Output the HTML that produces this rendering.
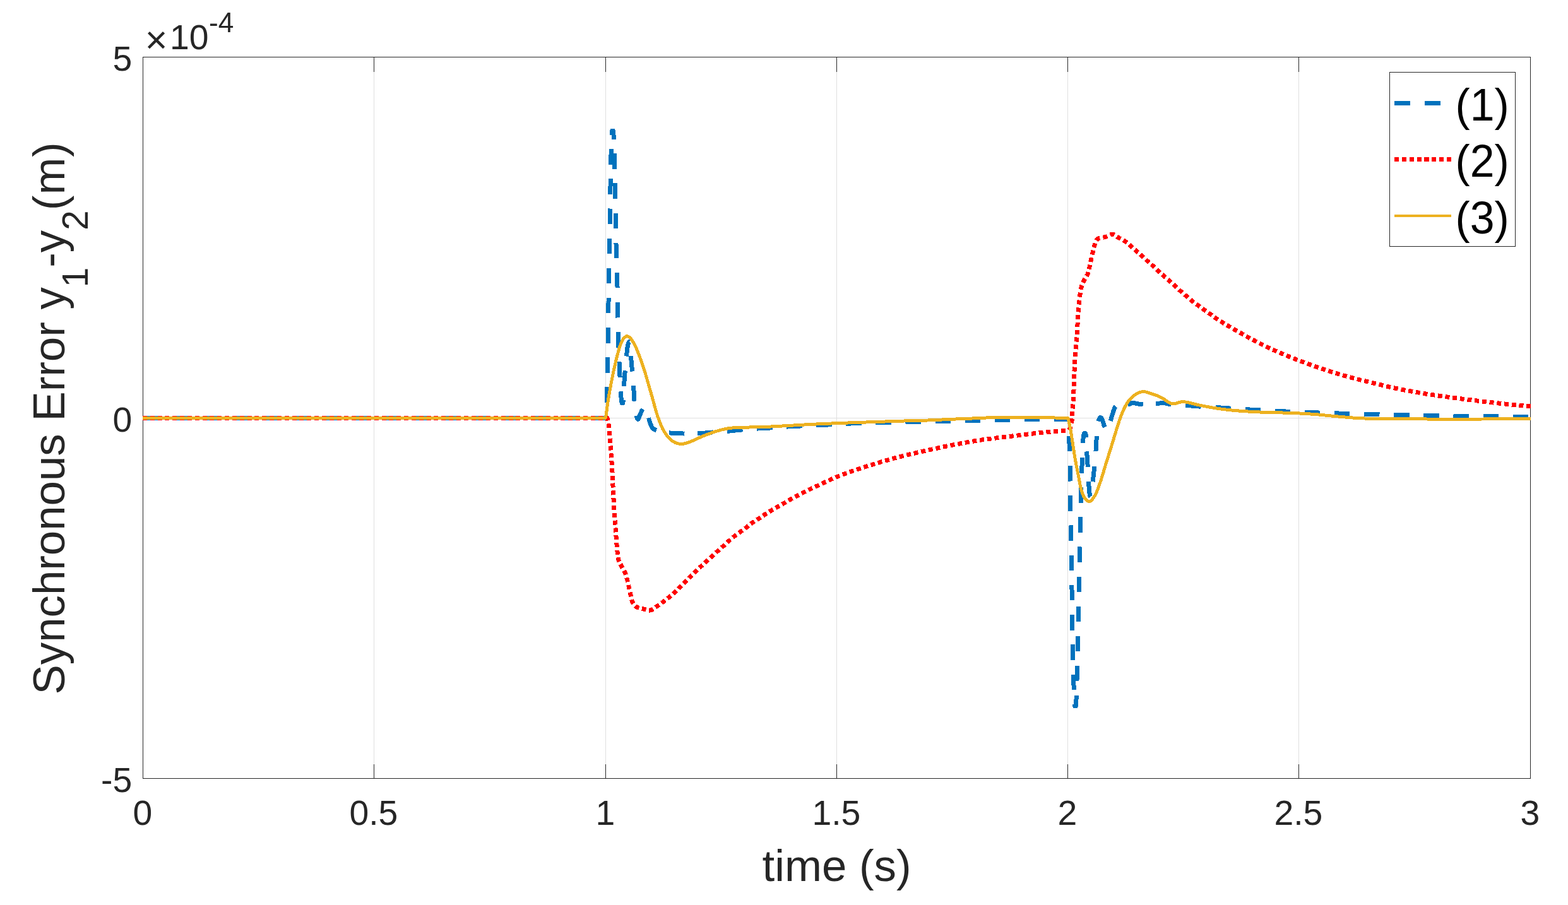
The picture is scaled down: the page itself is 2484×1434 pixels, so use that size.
<!DOCTYPE html>
<html lang="en"><head><meta charset="utf-8"><title>Synchronous Error</title>
<style>
html,body{margin:0;padding:0;background:#fff;}
body{width:2484px;height:1434px;overflow:hidden;}
svg{display:block;}
text{font-family:"Liberation Sans", "DejaVu Sans", sans-serif;}
</style></head><body>
<svg width="2484" height="1434" viewBox="0 0 2484 1434">
<rect x="0" y="0" width="2484" height="1434" fill="#ffffff"/>

<g stroke="#dfdfdf" stroke-width="1" shape-rendering="crispEdges">
<line x1="592.5" y1="90.5" x2="592.5" y2="1233.5"/>
<line x1="959.5" y1="90.5" x2="959.5" y2="1233.5"/>
<line x1="1325.5" y1="90.5" x2="1325.5" y2="1233.5"/>
<line x1="1691.5" y1="90.5" x2="1691.5" y2="1233.5"/>
<line x1="2057.5" y1="90.5" x2="2057.5" y2="1233.5"/>
<line x1="226.5" y1="662.5" x2="2424.5" y2="662.5"/>
</g>
<g stroke="#262626" stroke-width="1" fill="none" shape-rendering="crispEdges">
<rect x="226.5" y="90.5" width="2198.0" height="1143.0"/>
<line x1="592.5" y1="1233.5" x2="592.5" y2="1210.5"/>
<line x1="592.5" y1="90.5" x2="592.5" y2="113.5"/>
<line x1="959.5" y1="1233.5" x2="959.5" y2="1210.5"/>
<line x1="959.5" y1="90.5" x2="959.5" y2="113.5"/>
<line x1="1325.5" y1="1233.5" x2="1325.5" y2="1210.5"/>
<line x1="1325.5" y1="90.5" x2="1325.5" y2="113.5"/>
<line x1="1691.5" y1="1233.5" x2="1691.5" y2="1210.5"/>
<line x1="1691.5" y1="90.5" x2="1691.5" y2="113.5"/>
<line x1="2057.5" y1="1233.5" x2="2057.5" y2="1210.5"/>
<line x1="2057.5" y1="90.5" x2="2057.5" y2="113.5"/>
<line x1="226.5" y1="662.5" x2="249.5" y2="662.5"/>
<line x1="2424.5" y1="662.5" x2="2401.5" y2="662.5"/>
</g>
<defs><clipPath id="ax"><rect x="226.0" y="90.0" width="2199.0" height="1144.0"/></clipPath><clipPath id="bl"><rect x="226.0" y="204" width="2199.0" height="918"/></clipPath></defs>
<g clip-path="url(#ax)" fill="none" stroke-linejoin="round" shape-rendering="crispEdges">
<g clip-path="url(#bl)"><path d="M226,662 L959.80,662 L959.87,660.56 L959.94,659.13 L960.02,657.71 L960.09,656.30 L960.17,654.89 L960.24,653.48 L960.32,652.07 L960.39,650.67 L960.47,649.27 L960.54,647.86 L960.62,646.46 L960.69,645.05 L960.77,643.63 L960.84,642.21 L960.91,640.78 L960.99,639.34 L961.06,637.90 L961.12,636.44 L961.19,634.97 L961.26,633.49 L961.32,631.99 L961.38,630.48 L961.44,628.95 L961.50,627.40 L961.55,626.02 L961.60,624.63 L961.64,623.23 L961.69,621.82 L961.73,620.39 L961.77,618.96 L961.81,617.51 L961.85,616.05 L961.89,614.59 L961.92,613.11 L961.96,611.63 L961.99,610.14 L962.03,608.64 L962.06,607.14 L962.09,605.63 L962.12,604.12 L962.15,602.60 L962.19,601.09 L962.22,599.56 L962.25,598.04 L962.27,596.51 L962.30,594.98 L962.33,593.46 L962.36,591.93 L962.39,590.40 L962.42,588.88 L962.45,587.36 L962.48,585.84 L962.51,584.32 L962.54,582.81 L962.57,581.30 L962.60,579.80 L962.63,578.33 L962.66,576.87 L962.69,575.43 L962.72,573.99 L962.75,572.56 L962.78,571.14 L962.81,569.73 L962.84,568.32 L962.87,566.91 L962.89,565.50 L962.92,564.10 L962.95,562.70 L962.98,561.29 L963.01,559.88 L963.03,558.46 L963.06,557.04 L963.09,555.61 L963.11,554.18 L963.14,552.73 L963.17,551.27 L963.19,549.80 L963.22,548.32 L963.25,546.82 L963.27,545.30 L963.30,543.77 L963.32,542.21 L963.35,540.64 L963.37,539.05 L963.40,537.43 L963.42,535.79 L963.45,534.12 L963.48,532.42 L963.50,530.70 L963.52,529.45 L963.53,528.19 L963.55,526.92 L963.57,525.62 L963.58,524.32 L963.60,523 L963.62,521.66 L963.63,520.32 L963.65,518.95 L963.66,517.58 L963.68,516.20 L963.69,514.80 L963.71,513.39 L963.72,511.97 L963.73,510.54 L963.75,509.10 L963.76,507.65 L963.78,506.19 L963.79,504.72 L963.80,503.24 L963.82,501.76 L963.83,500.26 L963.84,498.76 L963.85,497.25 L963.87,495.74 L963.88,494.22 L963.89,492.69 L963.91,491.15 L963.92,489.62 L963.93,488.07 L963.95,486.52 L963.96,484.97 L963.97,483.42 L963.98,481.86 L964,480.30 L964.01,478.73 L964.02,477.16 L964.04,475.60 L964.05,474.03 L964.07,472.46 L964.08,470.88 L964.09,469.31 L964.11,467.74 L964.12,466.17 L964.14,464.60 L964.15,463.03 L964.17,461.47 L964.18,459.90 L964.20,458.34 L964.22,456.78 L964.23,455.22 L964.25,453.67 L964.27,452.12 L964.28,450.58 L964.30,449.04 L964.32,447.51 L964.34,445.98 L964.36,444.46 L964.38,442.94 L964.40,441.43 L964.42,439.93 L964.44,438.43 L964.46,436.95 L964.48,435.47 L964.50,434 L964.52,432.48 L964.55,430.96 L964.57,429.43 L964.60,427.89 L964.62,426.35 L964.65,424.81 L964.68,423.26 L964.70,421.71 L964.73,420.15 L964.76,418.59 L964.79,417.03 L964.82,415.46 L964.85,413.89 L964.88,412.32 L964.91,410.75 L964.94,409.18 L964.97,407.60 L965,406.03 L965.03,404.46 L965.06,402.88 L965.10,401.31 L965.13,399.74 L965.16,398.17 L965.19,396.60 L965.23,395.03 L965.26,393.47 L965.29,391.90 L965.33,390.35 L965.36,388.79 L965.39,387.24 L965.43,385.69 L965.46,384.15 L965.49,382.61 L965.52,381.08 L965.56,379.55 L965.59,378.03 L965.62,376.52 L965.66,375.01 L965.69,373.51 L965.72,372.02 L965.75,370.53 L965.78,369.05 L965.81,367.58 L965.85,366.12 L965.88,364.67 L965.91,363.23 L965.94,361.80 L965.97,360.38 L965.99,358.97 L966.02,357.57 L966.05,356.18 L966.08,354.80 L966.11,353.44 L966.13,352.09 L966.16,350.75 L966.18,349.42 L966.21,348.11 L966.23,346.81 L966.26,345.53 L966.28,344.26 L966.30,343 L966.33,341.31 L966.36,339.64 L966.38,338 L966.41,336.39 L966.43,334.80 L966.46,333.24 L966.48,331.69 L966.51,330.17 L966.53,328.66 L966.55,327.18 L966.57,325.70 L966.59,324.25 L966.61,322.80 L966.63,321.37 L966.65,319.95 L966.67,318.54 L966.69,317.13 L966.71,315.73 L966.73,314.34 L966.74,312.95 L966.76,311.56 L966.78,310.17 L966.80,308.78 L966.82,307.39 L966.84,305.99 L966.86,304.59 L966.88,303.19 L966.91,301.77 L966.93,300.34 L966.95,298.91 L966.98,297.46 L967,296 L967.03,294.53 L967.05,293.05 L967.08,291.56 L967.10,290.07 L967.13,288.57 L967.15,287.07 L967.18,285.56 L967.20,284.06 L967.23,282.55 L967.26,281.03 L967.28,279.52 L967.31,278.01 L967.34,276.50 L967.36,274.99 L967.39,273.48 L967.42,271.98 L967.45,270.48 L967.47,268.99 L967.50,267.50 L967.53,266.02 L967.56,264.54 L967.59,263.07 L967.62,261.62 L967.65,260.17 L967.68,258.73 L967.71,257.30 L967.74,255.88 L967.77,254.48 L967.80,253.09 L967.83,251.71 L967.87,250.35 L967.90,249 L967.94,247.43 L967.98,245.84 L968.02,244.25 L968.05,242.65 L968.09,241.04 L968.13,239.43 L968.17,237.83 L968.21,236.24 L968.25,234.66 L968.29,233.09 L968.33,231.55 L968.38,230.03 L968.42,228.54 L968.46,227.08 L968.51,225.65 L968.55,224.27 L968.60,222.92 L968.65,221.63 L968.69,220.39 L968.74,219.20 L968.79,218.07 L968.85,217 L968.90,216 L968.99,214.20 L969.08,212.55 L969.16,211.06 L969.27,209.72 L969.41,208.53 L969.60,207.50 L970.03,205.96 L970.50,205.20 L970.97,205.96 L971.40,207.50 L971.59,208.53 L971.73,209.70 L971.83,211.02 L971.92,212.50 L972,214.16 L972.10,216 L972.15,216.94 L972.20,217.93 L972.26,218.95 L972.31,220.02 L972.36,221.14 L972.40,222.29 L972.45,223.48 L972.50,224.72 L972.55,225.99 L972.59,227.30 L972.64,228.65 L972.69,230.04 L972.73,231.47 L972.78,232.93 L972.83,234.43 L972.87,235.96 L972.92,237.53 L972.97,239.13 L973.01,240.77 L973.06,242.44 L973.11,244.14 L973.15,245.88 L973.20,247.64 L973.25,249.44 L973.30,251.26 L973.35,253.12 L973.40,255 L973.43,256.04 L973.46,257.10 L973.48,258.20 L973.51,259.32 L973.54,260.47 L973.57,261.65 L973.60,262.85 L973.62,264.08 L973.65,265.33 L973.68,266.60 L973.71,267.90 L973.74,269.23 L973.77,270.57 L973.80,271.94 L973.83,273.33 L973.86,274.74 L973.89,276.16 L973.92,277.61 L973.95,279.08 L973.98,280.56 L974.01,282.06 L974.04,283.58 L974.07,285.11 L974.10,286.66 L974.13,288.23 L974.16,289.80 L974.19,291.39 L974.22,293 L974.25,294.62 L974.28,296.24 L974.31,297.88 L974.34,299.53 L974.37,301.19 L974.40,302.86 L974.43,304.54 L974.47,306.22 L974.50,307.91 L974.53,309.61 L974.56,311.31 L974.59,313.02 L974.62,314.74 L974.65,316.46 L974.68,318.18 L974.72,319.90 L974.75,321.63 L974.78,323.36 L974.81,325.09 L974.84,326.82 L974.87,328.55 L974.90,330.28 L974.94,332.01 L974.97,333.73 L975,335.45 L975.03,337.17 L975.06,338.89 L975.09,340.60 L975.12,342.30 L975.16,344 L975.19,345.70 L975.22,347.38 L975.25,349.06 L975.28,350.73 L975.31,352.39 L975.34,354.04 L975.37,355.68 L975.41,357.31 L975.44,358.93 L975.47,360.53 L975.50,362.12 L975.53,363.70 L975.56,365.27 L975.59,366.82 L975.62,368.35 L975.65,369.87 L975.68,371.38 L975.71,372.86 L975.74,374.33 L975.77,375.78 L975.80,377.21 L975.83,378.62 L975.86,380.01 L975.89,381.38 L975.92,382.73 L975.95,384.05 L975.98,385.36 L976.01,386.63 L976.04,387.89 L976.07,389.12 L976.10,390.33 L976.13,391.50 L976.16,392.66 L976.19,393.78 L976.22,394.88 L976.24,395.95 L976.27,396.99 L976.30,398 L976.35,399.87 L976.41,401.63 L976.46,403.31 L976.52,404.91 L976.57,406.43 L976.62,407.89 L976.68,409.29 L976.73,410.65 L976.78,411.96 L976.83,413.23 L976.89,414.49 L976.94,415.72 L976.99,416.95 L977.04,418.18 L977.09,419.42 L977.15,420.67 L977.20,421.95 L977.25,423.25 L977.30,424.60 L977.35,426 L977.40,427.45 L977.45,428.97 L977.50,430.56 L977.55,432.24 L977.60,434 L977.63,435.12 L977.66,436.27 L977.69,437.46 L977.72,438.66 L977.75,439.90 L977.77,441.16 L977.80,442.45 L977.83,443.76 L977.86,445.10 L977.88,446.46 L977.91,447.84 L977.94,449.24 L977.96,450.66 L977.99,452.10 L978.01,453.56 L978.04,455.04 L978.07,456.53 L978.09,458.04 L978.12,459.57 L978.14,461.11 L978.17,462.66 L978.19,464.23 L978.22,465.81 L978.24,467.40 L978.26,469 L978.29,470.61 L978.31,472.23 L978.34,473.85 L978.36,475.48 L978.39,477.12 L978.41,478.77 L978.43,480.41 L978.46,482.07 L978.48,483.72 L978.51,485.38 L978.53,487.03 L978.56,488.69 L978.58,490.35 L978.61,492 L978.63,493.66 L978.66,495.31 L978.68,496.95 L978.71,498.59 L978.74,500.23 L978.76,501.86 L978.79,503.48 L978.82,505.09 L978.84,506.69 L978.87,508.29 L978.90,509.87 L978.93,511.44 L978.95,513 L978.98,514.55 L979.01,516.08 L979.04,517.60 L979.07,519.10 L979.10,520.58 L979.13,522.05 L979.16,523.50 L979.19,524.93 L979.23,526.34 L979.26,527.73 L979.29,529.10 L979.32,530.44 L979.36,531.76 L979.39,533.06 L979.43,534.33 L979.46,535.58 L979.50,536.80 L979.55,538.56 L979.61,540.29 L979.67,541.99 L979.72,543.66 L979.78,545.32 L979.84,546.94 L979.90,548.55 L979.96,550.13 L980.02,551.70 L980.08,553.24 L980.15,554.77 L980.21,556.28 L980.27,557.77 L980.34,559.24 L980.40,560.71 L980.47,562.16 L980.53,563.59 L980.60,565.02 L980.66,566.44 L980.73,567.84 L980.79,569.24 L980.86,570.63 L980.92,572.02 L980.99,573.40 L981.05,574.78 L981.12,576.15 L981.18,577.53 L981.25,578.90 L981.31,580.27 L981.38,581.64 L981.44,583.02 L981.50,584.40 L981.57,586 L981.64,587.62 L981.71,589.25 L981.78,590.88 L981.85,592.51 L981.92,594.15 L981.99,595.78 L982.06,597.40 L982.13,599.02 L982.20,600.63 L982.27,602.22 L982.34,603.79 L982.41,605.34 L982.48,606.87 L982.55,608.37 L982.62,609.84 L982.69,611.28 L982.76,612.68 L982.83,614.05 L982.90,615.38 L982.98,616.66 L983.05,617.89 L983.12,619.07 L983.20,620.20 L983.32,621.87 L983.43,623.45 L983.54,624.94 L983.65,626.35 L983.77,627.68 L983.89,628.96 L984.02,630.18 L984.15,631.36 L984.30,632.50 L984.47,633.98 L984.63,635.46 L984.81,636.81 L985.05,637.90 L985.40,638.60 L985.90,638.93 L986.40,638.90 L986.75,638.33 L987,637.25 L987.18,635.82 L987.34,634.18 L987.50,632.50 L987.61,631.40 L987.70,630.19 L987.78,628.90 L987.86,627.53 L987.92,626.09 L987.98,624.60 L988.04,623.06 L988.09,621.49 L988.15,619.89 L988.21,618.27 L988.27,616.66 L988.34,615.05 L988.41,613.46 L988.50,611.90 L988.59,610.49 L988.68,609.06 L988.77,607.61 L988.86,606.15 L988.96,604.68 L989.06,603.20 L989.17,601.70 L989.27,600.21 L989.38,598.71 L989.49,597.21 L989.60,595.71 L989.72,594.22 L989.83,592.73 L989.95,591.26 L990.06,589.79 L990.18,588.34 L990.30,586.90 L990.43,585.37 L990.55,583.85 L990.68,582.33 L990.81,580.81 L990.94,579.30 L991.08,577.80 L991.21,576.30 L991.35,574.81 L991.49,573.33 L991.63,571.85 L991.78,570.39 L991.93,568.93 L992.08,567.47 L992.24,566.03 L992.40,564.60 L992.57,563.04 L992.75,561.44 L992.92,559.80 L993.09,558.15 L993.27,556.51 L993.45,554.88 L993.64,553.29 L993.83,551.76 L994.04,550.30 L994.26,548.92 L994.49,547.66 L994.74,546.51 L995,545.50 L995.47,543.98 L995.99,542.59 L996.51,541.58 L997,541.20 L997.46,541.60 L997.92,542.61 L998.34,543.99 L998.70,545.50 L998.87,546.49 L999.01,547.60 L999.10,548.83 L999.17,550.16 L999.22,551.56 L999.25,553.04 L999.27,554.58 L999.28,556.15 L999.30,557.75 L999.32,559.35 L999.36,560.96 L999.42,562.55 L999.50,564.10 L999.59,565.47 L999.69,566.86 L999.80,568.28 L999.91,569.72 L1000.03,571.18 L1000.15,572.65 L1000.28,574.13 L1000.41,575.61 L1000.54,577.11 L1000.68,578.61 L1000.82,580.10 L1000.95,581.59 L1001.09,583.08 L1001.22,584.56 L1001.35,586.02 L1001.48,587.47 L1001.60,588.90 L1001.73,590.42 L1001.86,591.92 L1001.99,593.41 L1002.12,594.89 L1002.25,596.37 L1002.38,597.83 L1002.51,599.30 L1002.64,600.76 L1002.77,602.23 L1002.89,603.70 L1003.02,605.18 L1003.14,606.67 L1003.26,608.16 L1003.38,609.67 L1003.50,611.20 L1003.61,612.65 L1003.71,614.12 L1003.80,615.61 L1003.89,617.10 L1003.98,618.61 L1004.06,620.12 L1004.15,621.63 L1004.23,623.15 L1004.32,624.67 L1004.41,626.19 L1004.50,627.71 L1004.60,629.22 L1004.70,630.72 L1004.81,632.21 L1004.93,633.69 L1005.06,635.15 L1005.20,636.60 L1005.36,638.14 L1005.52,639.73 L1005.68,641.34 L1005.85,642.96 L1006.03,644.59 L1006.21,646.21 L1006.40,647.81 L1006.59,649.38 L1006.80,650.91 L1007.01,652.39 L1007.23,653.80 L1007.45,655.14 L1007.69,656.40 L1007.94,657.55 L1008.20,658.60 L1008.64,660.23 L1009.11,661.81 L1009.60,663.18 L1010.10,664.13 L1010.60,664.50 L1011.17,664.01 L1011.74,662.75 L1012.34,661.12 L1013,659.50 L1013.53,658.31 L1014.11,656.96 L1014.72,655.49 L1015.35,653.99 L1015.98,652.51 L1016.61,651.10 L1017.22,649.85 L1017.80,648.80 L1018.65,647.46 L1019.47,646.38 L1020.30,645.60 L1021.16,645.08 L1022,645 L1022.71,645.57 L1023.36,646.63 L1024,648 L1024.38,648.98 L1024.74,650.17 L1025.10,651.52 L1025.45,652.99 L1025.79,654.54 L1026.13,656.13 L1026.47,657.72 L1026.81,659.27 L1027.15,660.75 L1027.50,662.10 L1027.92,663.63 L1028.32,665.13 L1028.72,666.60 L1029.13,668.02 L1029.55,669.40 L1030.01,670.73 L1030.50,672 L1031.11,673.46 L1031.73,674.88 L1032.40,676.21 L1033.14,677.43 L1034,678.50 L1035.10,679.48 L1036.31,680.28 L1037.62,680.97 L1039,681.60 L1040.27,682.12 L1041.59,682.57 L1042.98,682.97 L1044.45,683.34 L1046,683.70 L1047.16,683.96 L1048.36,684.20 L1049.60,684.43 L1050.87,684.65 L1052.20,684.86 L1053.57,685.06 L1054.99,685.25 L1056.46,685.43 L1058,685.60 L1059.27,685.73 L1060.59,685.86 L1061.96,685.98 L1063.38,686.09 L1064.84,686.20 L1066.33,686.31 L1067.85,686.40 L1069.40,686.50 L1070.96,686.58 L1072.53,686.66 L1074.11,686.74 L1075.69,686.80 L1077.26,686.86 L1078.83,686.92 L1080.37,686.96 L1081.90,687 L1083.36,687.03 L1084.84,687.05 L1086.32,687.07 L1087.81,687.08 L1089.30,687.09 L1090.80,687.09 L1092.29,687.08 L1093.79,687.07 L1095.29,687.05 L1096.78,687.03 L1098.27,687 L1099.75,686.96 L1101.22,686.92 L1102.69,686.87 L1104.14,686.82 L1105.58,686.76 L1107,686.70 L1108.47,686.63 L1109.92,686.54 L1111.35,686.45 L1112.76,686.34 L1114.17,686.23 L1115.56,686.12 L1116.96,686 L1118.35,685.87 L1119.74,685.74 L1121.14,685.61 L1122.54,685.49 L1123.96,685.36 L1125.39,685.24 L1126.83,685.12 L1128.30,685 L1129.72,684.89 L1131.17,684.79 L1132.62,684.69 L1134.09,684.59 L1135.57,684.49 L1137.06,684.39 L1138.56,684.29 L1140.05,684.19 L1141.56,684.09 L1143.06,683.98 L1144.56,683.88 L1146.05,683.77 L1147.54,683.67 L1149.02,683.56 L1150.50,683.44 L1151.96,683.32 L1153.40,683.20 L1154.85,683.07 L1156.28,682.94 L1157.71,682.80 L1159.13,682.65 L1160.54,682.51 L1161.95,682.36 L1163.36,682.21 L1164.76,682.05 L1166.16,681.90 L1167.56,681.75 L1168.96,681.60 L1170.36,681.45 L1171.77,681.31 L1173.17,681.17 L1174.58,681.03 L1176,680.90 L1177.43,680.77 L1178.86,680.65 L1180.29,680.52 L1181.72,680.40 L1183.15,680.28 L1184.59,680.16 L1186.02,680.05 L1187.45,679.93 L1188.89,679.82 L1190.33,679.71 L1191.77,679.61 L1193.21,679.50 L1194.65,679.40 L1196.10,679.30 L1197.55,679.20 L1199,679.10 L1200.40,679.01 L1201.80,678.92 L1203.21,678.84 L1204.62,678.77 L1206.03,678.69 L1207.45,678.62 L1208.86,678.55 L1210.28,678.48 L1211.70,678.41 L1213.12,678.34 L1214.54,678.27 L1215.95,678.20 L1217.37,678.12 L1218.78,678.05 L1220.19,677.97 L1221.60,677.89 L1223,677.80 L1224.47,677.70 L1225.93,677.60 L1227.39,677.50 L1228.85,677.39 L1230.31,677.28 L1231.76,677.17 L1233.22,677.06 L1234.67,676.94 L1236.12,676.83 L1237.57,676.72 L1239.03,676.61 L1240.48,676.50 L1241.93,676.39 L1243.39,676.29 L1244.84,676.19 L1246.30,676.10 L1247.76,676.01 L1249.22,675.93 L1250.68,675.85 L1252.14,675.77 L1253.61,675.69 L1255.07,675.62 L1256.53,675.55 L1257.99,675.47 L1259.46,675.40 L1260.92,675.34 L1262.38,675.27 L1263.85,675.20 L1265.31,675.12 L1266.77,675.05 L1268.24,674.98 L1269.70,674.90 L1271.17,674.82 L1272.63,674.74 L1274.10,674.66 L1275.56,674.57 L1277.03,674.48 L1278.49,674.40 L1279.96,674.31 L1281.42,674.22 L1282.89,674.14 L1284.36,674.05 L1285.83,673.97 L1287.30,673.89 L1288.77,673.81 L1290.25,673.74 L1291.72,673.67 L1293.20,673.60 L1294.62,673.54 L1296.03,673.49 L1297.46,673.44 L1298.88,673.39 L1300.31,673.35 L1301.74,673.31 L1303.17,673.27 L1304.60,673.23 L1306.04,673.19 L1307.47,673.15 L1308.89,673.11 L1310.32,673.07 L1311.75,673.02 L1313.17,672.97 L1314.58,672.92 L1315.99,672.86 L1317.40,672.80 L1318.85,672.73 L1320.29,672.65 L1321.73,672.57 L1323.16,672.48 L1324.59,672.39 L1326.02,672.30 L1327.44,672.21 L1328.87,672.11 L1330.29,672.02 L1331.71,671.92 L1333.14,671.83 L1334.57,671.74 L1335.99,671.65 L1337.42,671.56 L1338.86,671.48 L1340.30,671.40 L1341.76,671.33 L1343.20,671.25 L1344.64,671.18 L1346.07,671.11 L1347.50,671.04 L1348.93,670.98 L1350.36,670.91 L1351.80,670.85 L1353.25,670.79 L1354.71,670.73 L1356.18,670.67 L1357.68,670.61 L1359.19,670.56 L1360.73,670.50 L1362.30,670.45 L1363.90,670.40 L1365.21,670.36 L1366.52,670.32 L1367.85,670.29 L1369.19,670.25 L1370.54,670.22 L1371.90,670.19 L1373.28,670.16 L1374.66,670.13 L1376.05,670.11 L1377.46,670.08 L1378.88,670.06 L1380.31,670.03 L1381.75,670.01 L1383.20,669.98 L1384.67,669.96 L1386.15,669.93 L1387.63,669.91 L1389.14,669.88 L1390.65,669.85 L1392.17,669.82 L1393.71,669.80 L1395.26,669.77 L1396.82,669.73 L1398.40,669.70 L1399.74,669.67 L1401.09,669.64 L1402.47,669.61 L1403.86,669.58 L1405.27,669.55 L1406.69,669.52 L1408.13,669.48 L1409.59,669.45 L1411.05,669.42 L1412.53,669.38 L1414.01,669.35 L1415.51,669.32 L1417.01,669.28 L1418.52,669.25 L1420.04,669.21 L1421.56,669.18 L1423.08,669.14 L1424.61,669.11 L1426.14,669.07 L1427.67,669.03 L1429.20,669 L1430.73,668.96 L1432.26,668.93 L1433.78,668.89 L1435.30,668.85 L1436.81,668.82 L1438.32,668.78 L1439.82,668.75 L1441.30,668.71 L1442.78,668.68 L1444.25,668.64 L1445.71,668.60 L1447.15,668.57 L1448.58,668.53 L1450,668.50 L1451.54,668.46 L1453.08,668.42 L1454.60,668.39 L1456.11,668.35 L1457.62,668.31 L1459.12,668.27 L1460.61,668.23 L1462.09,668.19 L1463.56,668.15 L1465.04,668.12 L1466.50,668.08 L1467.97,668.04 L1469.43,668 L1470.89,667.96 L1472.34,667.92 L1473.80,667.88 L1475.25,667.85 L1476.71,667.81 L1478.17,667.77 L1479.63,667.73 L1481.09,667.69 L1482.56,667.66 L1484.03,667.62 L1485.51,667.58 L1486.99,667.54 L1488.48,667.51 L1489.98,667.47 L1491.49,667.44 L1493,667.40 L1494.45,667.37 L1495.90,667.33 L1497.35,667.30 L1498.81,667.27 L1500.28,667.23 L1501.75,667.20 L1503.22,667.17 L1504.69,667.14 L1506.16,667.10 L1507.64,667.07 L1509.12,667.04 L1510.61,667.01 L1512.09,666.98 L1513.58,666.95 L1515.07,666.91 L1516.56,666.88 L1518.05,666.85 L1519.54,666.82 L1521.03,666.79 L1522.53,666.76 L1524.02,666.73 L1525.51,666.70 L1527.01,666.67 L1528.50,666.64 L1529.99,666.61 L1531.48,666.58 L1532.97,666.55 L1534.46,666.52 L1535.95,666.49 L1537.43,666.46 L1538.92,666.43 L1540.40,666.40 L1541.88,666.37 L1543.36,666.34 L1544.84,666.31 L1546.31,666.28 L1547.79,666.25 L1549.27,666.22 L1550.75,666.19 L1552.23,666.16 L1553.71,666.13 L1555.18,666.10 L1556.66,666.08 L1558.14,666.05 L1559.62,666.02 L1561.10,665.99 L1562.58,665.96 L1564.05,665.93 L1565.53,665.90 L1567.01,665.87 L1568.49,665.85 L1569.96,665.82 L1571.44,665.79 L1572.92,665.76 L1574.40,665.74 L1575.88,665.71 L1577.35,665.68 L1578.83,665.65 L1580.31,665.63 L1581.79,665.60 L1583.27,665.58 L1584.74,665.55 L1586.22,665.53 L1587.70,665.50 L1589.18,665.48 L1590.66,665.45 L1592.14,665.43 L1593.62,665.40 L1595.10,665.38 L1596.58,665.35 L1598.06,665.33 L1599.54,665.31 L1601.03,665.28 L1602.51,665.26 L1603.99,665.24 L1605.47,665.21 L1606.96,665.19 L1608.44,665.17 L1609.92,665.15 L1611.40,665.13 L1612.88,665.10 L1614.36,665.08 L1615.84,665.06 L1617.32,665.04 L1618.80,665.02 L1620.28,665 L1621.76,664.98 L1623.23,664.96 L1624.71,664.94 L1626.18,664.92 L1627.65,664.90 L1629.13,664.88 L1630.60,664.86 L1632.07,664.84 L1633.53,664.82 L1635,664.80 L1636.50,664.78 L1638.03,664.76 L1639.59,664.74 L1641.17,664.72 L1642.76,664.70 L1644.38,664.69 L1646,664.67 L1647.64,664.65 L1649.28,664.63 L1650.93,664.61 L1652.57,664.59 L1654.22,664.57 L1655.85,664.56 L1657.48,664.54 L1659.10,664.52 L1660.70,664.51 L1662.28,664.49 L1663.84,664.47 L1665.37,664.46 L1666.88,664.44 L1668.35,664.43 L1669.79,664.41 L1671.20,664.40 L1672.56,664.38 L1673.88,664.37 L1675.15,664.36 L1676.37,664.34 L1677.54,664.33 L1678.66,664.32 L1679.71,664.31 L1680.70,664.30 L1682.38,664.28 L1683.87,664.27 L1685.22,664.26 L1686.46,664.24 L1687.65,664.23 L1688.82,664.22 L1690.03,664.21 L1691.30,664.20 L1691.39,665.63 L1691.49,667.07 L1691.58,668.51 L1691.68,669.94 L1691.77,671.38 L1691.86,672.82 L1691.95,674.26 L1692.05,675.70 L1692.14,677.14 L1692.23,678.57 L1692.33,680.01 L1692.42,681.44 L1692.52,682.87 L1692.61,684.30 L1692.71,685.73 L1692.80,687.16 L1692.90,688.58 L1693,690 L1693.10,691.46 L1693.21,692.91 L1693.33,694.34 L1693.44,695.76 L1693.56,697.18 L1693.68,698.60 L1693.80,700.01 L1693.92,701.42 L1694.03,702.84 L1694.15,704.27 L1694.26,705.71 L1694.36,707.16 L1694.47,708.62 L1694.56,710.11 L1694.65,711.61 L1694.73,713.14 L1694.80,714.70 L1694.85,716.07 L1694.90,717.45 L1694.94,718.83 L1694.98,720.23 L1695.01,721.64 L1695.04,723.06 L1695.06,724.49 L1695.08,725.93 L1695.09,727.39 L1695.11,728.85 L1695.11,730.32 L1695.12,731.80 L1695.13,733.29 L1695.13,734.80 L1695.14,736.31 L1695.14,737.84 L1695.15,739.37 L1695.15,740.92 L1695.16,742.47 L1695.16,744.04 L1695.17,745.62 L1695.19,747.20 L1695.20,748.80 L1695.21,750.16 L1695.23,751.54 L1695.24,752.93 L1695.25,754.33 L1695.26,755.74 L1695.27,757.16 L1695.28,758.60 L1695.29,760.04 L1695.30,761.49 L1695.31,762.96 L1695.32,764.42 L1695.33,765.90 L1695.34,767.38 L1695.35,768.87 L1695.36,770.37 L1695.37,771.87 L1695.39,773.37 L1695.40,774.88 L1695.41,776.39 L1695.42,777.90 L1695.43,779.41 L1695.44,780.93 L1695.45,782.44 L1695.47,783.96 L1695.48,785.47 L1695.50,786.99 L1695.51,788.50 L1695.53,790.01 L1695.54,791.51 L1695.56,793.01 L1695.58,794.51 L1695.60,796 L1695.62,797.47 L1695.64,798.95 L1695.66,800.43 L1695.69,801.91 L1695.71,803.39 L1695.73,804.88 L1695.76,806.36 L1695.78,807.85 L1695.81,809.34 L1695.84,810.83 L1695.86,812.32 L1695.89,813.82 L1695.92,815.31 L1695.95,816.81 L1695.97,818.30 L1696,819.80 L1696.03,821.29 L1696.06,822.78 L1696.09,824.28 L1696.12,825.77 L1696.15,827.26 L1696.18,828.75 L1696.21,830.24 L1696.24,831.73 L1696.27,833.21 L1696.30,834.70 L1696.33,836.18 L1696.36,837.65 L1696.39,839.13 L1696.42,840.60 L1696.44,842.07 L1696.47,843.54 L1696.50,845 L1696.53,846.50 L1696.56,847.97 L1696.59,849.43 L1696.61,850.88 L1696.64,852.31 L1696.67,853.73 L1696.70,855.14 L1696.73,856.55 L1696.76,857.95 L1696.79,859.34 L1696.82,860.73 L1696.85,862.13 L1696.88,863.52 L1696.90,864.92 L1696.93,866.32 L1696.96,867.73 L1696.99,869.14 L1697.02,870.57 L1697.05,872.01 L1697.08,873.47 L1697.11,874.94 L1697.14,876.42 L1697.17,877.93 L1697.20,879.46 L1697.23,881.01 L1697.25,882.59 L1697.28,884.19 L1697.31,885.82 L1697.34,887.48 L1697.37,889.17 L1697.40,890.90 L1697.42,892.14 L1697.44,893.41 L1697.46,894.70 L1697.48,896.01 L1697.50,897.34 L1697.52,898.70 L1697.54,900.07 L1697.56,901.46 L1697.59,902.88 L1697.61,904.31 L1697.63,905.75 L1697.65,907.21 L1697.67,908.69 L1697.69,910.19 L1697.71,911.69 L1697.73,913.21 L1697.75,914.74 L1697.77,916.29 L1697.79,917.84 L1697.81,919.41 L1697.83,920.98 L1697.86,922.56 L1697.88,924.15 L1697.90,925.75 L1697.92,927.35 L1697.94,928.96 L1697.96,930.57 L1697.98,932.19 L1698,933.81 L1698.02,935.43 L1698.04,937.05 L1698.06,938.68 L1698.08,940.30 L1698.10,941.92 L1698.13,943.54 L1698.15,945.16 L1698.17,946.78 L1698.19,948.39 L1698.21,950 L1698.23,951.60 L1698.25,953.20 L1698.27,954.79 L1698.29,956.37 L1698.31,957.94 L1698.33,959.51 L1698.35,961.06 L1698.37,962.61 L1698.39,964.14 L1698.41,965.66 L1698.44,967.16 L1698.46,968.65 L1698.48,970.13 L1698.50,971.59 L1698.52,973.04 L1698.54,974.47 L1698.56,975.88 L1698.58,977.27 L1698.60,978.65 L1698.62,980 L1698.64,981.33 L1698.66,982.65 L1698.68,983.93 L1698.70,985.20 L1698.73,986.91 L1698.75,988.60 L1698.78,990.26 L1698.81,991.90 L1698.83,993.51 L1698.86,995.10 L1698.89,996.67 L1698.91,998.23 L1698.94,999.76 L1698.96,1001.28 L1698.99,1002.78 L1699.01,1004.27 L1699.04,1005.74 L1699.07,1007.21 L1699.09,1008.66 L1699.12,1010.10 L1699.14,1011.53 L1699.17,1012.95 L1699.19,1014.37 L1699.22,1015.78 L1699.25,1017.19 L1699.27,1018.60 L1699.30,1020 L1699.33,1021.41 L1699.36,1022.81 L1699.39,1024.21 L1699.42,1025.62 L1699.44,1027.04 L1699.47,1028.45 L1699.50,1029.88 L1699.54,1031.31 L1699.57,1032.75 L1699.60,1034.20 L1699.63,1035.69 L1699.67,1037.19 L1699.70,1038.70 L1699.74,1040.21 L1699.77,1041.72 L1699.81,1043.24 L1699.84,1044.76 L1699.88,1046.28 L1699.91,1047.79 L1699.95,1049.31 L1699.99,1050.83 L1700.02,1052.35 L1700.06,1053.86 L1700.10,1055.36 L1700.14,1056.87 L1700.18,1058.36 L1700.22,1059.85 L1700.26,1061.33 L1700.30,1062.81 L1700.34,1064.27 L1700.38,1065.72 L1700.42,1067.17 L1700.46,1068.60 L1700.50,1070.01 L1700.54,1071.42 L1700.58,1072.81 L1700.63,1074.18 L1700.67,1075.54 L1700.71,1076.88 L1700.76,1078.20 L1700.80,1079.50 L1700.85,1081.09 L1700.91,1082.68 L1700.97,1084.27 L1701.02,1085.84 L1701.08,1087.42 L1701.14,1088.97 L1701.20,1090.52 L1701.26,1092.04 L1701.32,1093.55 L1701.38,1095.03 L1701.44,1096.49 L1701.50,1097.92 L1701.56,1099.32 L1701.62,1100.68 L1701.68,1102.01 L1701.75,1103.30 L1701.81,1104.54 L1701.87,1105.74 L1701.94,1106.90 L1702,1108 L1702.09,1109.61 L1702.17,1111.17 L1702.24,1112.65 L1702.32,1114.05 L1702.41,1115.35 L1702.52,1116.54 L1702.64,1117.59 L1702.80,1118.50 L1703.18,1120.05 L1703.60,1120.80 L1704.02,1120.05 L1704.40,1118.50 L1704.56,1117.51 L1704.67,1116.38 L1704.75,1115.11 L1704.81,1113.69 L1704.87,1112.13 L1704.93,1110.44 L1705,1108.60 L1705.04,1107.59 L1705.09,1106.51 L1705.14,1105.37 L1705.18,1104.17 L1705.23,1102.91 L1705.27,1101.60 L1705.32,1100.24 L1705.37,1098.83 L1705.41,1097.39 L1705.46,1095.90 L1705.51,1094.39 L1705.55,1092.84 L1705.60,1091.26 L1705.65,1089.66 L1705.70,1088.04 L1705.74,1086.40 L1705.79,1084.76 L1705.84,1083.10 L1705.88,1081.43 L1705.93,1079.77 L1705.98,1078.10 L1706.02,1076.44 L1706.07,1074.79 L1706.12,1073.16 L1706.16,1071.53 L1706.21,1069.93 L1706.25,1068.35 L1706.30,1066.80 L1706.34,1065.37 L1706.38,1063.93 L1706.43,1062.49 L1706.47,1061.04 L1706.51,1059.59 L1706.55,1058.14 L1706.60,1056.68 L1706.64,1055.21 L1706.68,1053.75 L1706.72,1052.28 L1706.76,1050.80 L1706.81,1049.33 L1706.85,1047.85 L1706.89,1046.37 L1706.93,1044.88 L1706.97,1043.40 L1707.01,1041.92 L1707.06,1040.43 L1707.10,1038.94 L1707.14,1037.46 L1707.18,1035.97 L1707.22,1034.48 L1707.26,1033 L1707.30,1031.51 L1707.34,1030.03 L1707.38,1028.55 L1707.41,1027.07 L1707.45,1025.59 L1707.49,1024.11 L1707.53,1022.64 L1707.56,1021.17 L1707.60,1019.70 L1707.64,1018.20 L1707.67,1016.70 L1707.71,1015.21 L1707.74,1013.71 L1707.78,1012.22 L1707.81,1010.73 L1707.85,1009.24 L1707.88,1007.74 L1707.91,1006.25 L1707.95,1004.76 L1707.98,1003.28 L1708.01,1001.79 L1708.05,1000.30 L1708.08,998.81 L1708.11,997.32 L1708.14,995.83 L1708.17,994.34 L1708.20,992.86 L1708.23,991.37 L1708.27,989.87 L1708.30,988.38 L1708.33,986.89 L1708.36,985.40 L1708.39,983.90 L1708.42,982.41 L1708.45,980.91 L1708.48,979.41 L1708.51,977.91 L1708.54,976.41 L1708.57,974.91 L1708.60,973.40 L1708.63,971.96 L1708.66,970.51 L1708.69,969.06 L1708.71,967.62 L1708.74,966.16 L1708.77,964.71 L1708.80,963.26 L1708.83,961.80 L1708.85,960.34 L1708.88,958.88 L1708.91,957.42 L1708.94,955.96 L1708.96,954.50 L1708.99,953.04 L1709.02,951.58 L1709.04,950.12 L1709.07,948.66 L1709.10,947.19 L1709.12,945.73 L1709.15,944.27 L1709.18,942.81 L1709.20,941.35 L1709.23,939.89 L1709.26,938.44 L1709.28,936.98 L1709.31,935.53 L1709.34,934.07 L1709.36,932.62 L1709.39,931.17 L1709.42,929.73 L1709.45,928.28 L1709.47,926.84 L1709.50,925.40 L1709.53,923.90 L1709.56,922.41 L1709.59,920.92 L1709.61,919.44 L1709.64,917.95 L1709.67,916.47 L1709.70,915 L1709.73,913.52 L1709.76,912.04 L1709.79,910.57 L1709.82,909.10 L1709.84,907.63 L1709.87,906.16 L1709.90,904.69 L1709.93,903.21 L1709.96,901.74 L1709.99,900.27 L1710.02,898.80 L1710.05,897.33 L1710.07,895.86 L1710.10,894.38 L1710.13,892.90 L1710.16,891.43 L1710.19,889.95 L1710.22,888.46 L1710.25,886.98 L1710.28,885.49 L1710.31,884 L1710.34,882.50 L1710.37,881 L1710.40,879.50 L1710.43,878.04 L1710.46,876.57 L1710.49,875.10 L1710.52,873.62 L1710.55,872.15 L1710.58,870.66 L1710.61,869.18 L1710.64,867.69 L1710.67,866.20 L1710.70,864.71 L1710.73,863.22 L1710.76,861.72 L1710.79,860.23 L1710.82,858.73 L1710.85,857.23 L1710.88,855.74 L1710.92,854.24 L1710.95,852.74 L1710.98,851.24 L1711.01,849.75 L1711.04,848.25 L1711.07,846.76 L1711.10,845.27 L1711.13,843.78 L1711.16,842.29 L1711.19,840.80 L1711.22,839.32 L1711.25,837.84 L1711.28,836.36 L1711.31,834.89 L1711.34,833.42 L1711.37,831.96 L1711.40,830.50 L1711.43,829 L1711.46,827.51 L1711.49,826 L1711.52,824.50 L1711.54,823 L1711.57,821.50 L1711.60,819.99 L1711.62,818.49 L1711.65,816.99 L1711.68,815.49 L1711.70,813.99 L1711.73,812.49 L1711.76,811 L1711.78,809.50 L1711.81,808.01 L1711.84,806.53 L1711.86,805.05 L1711.89,803.57 L1711.92,802.10 L1711.95,800.64 L1711.97,799.18 L1712,797.72 L1712.03,796.28 L1712.06,794.84 L1712.10,793.41 L1712.13,791.98 L1712.16,790.57 L1712.19,789.16 L1712.23,787.76 L1712.26,786.38 L1712.30,785 L1712.34,783.45 L1712.39,781.90 L1712.43,780.37 L1712.48,778.83 L1712.52,777.31 L1712.57,775.79 L1712.62,774.28 L1712.67,772.78 L1712.72,771.28 L1712.77,769.79 L1712.82,768.32 L1712.87,766.85 L1712.92,765.39 L1712.97,763.93 L1713.03,762.49 L1713.08,761.06 L1713.13,759.64 L1713.18,758.23 L1713.24,756.83 L1713.29,755.44 L1713.34,754.06 L1713.39,752.70 L1713.45,751.34 L1713.50,750 L1713.56,748.42 L1713.63,746.87 L1713.69,745.34 L1713.75,743.83 L1713.82,742.34 L1713.88,740.87 L1713.95,739.41 L1714.01,737.96 L1714.08,736.52 L1714.14,735.08 L1714.21,733.65 L1714.27,732.22 L1714.34,730.79 L1714.40,729.36 L1714.47,727.92 L1714.54,726.46 L1714.60,725 L1714.66,723.51 L1714.73,721.99 L1714.79,720.44 L1714.85,718.88 L1714.91,717.30 L1714.97,715.72 L1715.03,714.14 L1715.09,712.57 L1715.16,711.02 L1715.22,709.49 L1715.28,707.99 L1715.35,706.53 L1715.41,705.11 L1715.48,703.74 L1715.55,702.42 L1715.63,701.18 L1715.70,700 L1715.81,698.29 L1715.91,696.67 L1716.01,695.14 L1716.12,693.70 L1716.25,692.36 L1716.40,691.13 L1716.60,690 L1716.91,688.43 L1717.28,687.07 L1717.80,686.30 L1718.55,686.26 L1719.30,686.70 L1719.74,687.44 L1720.05,688.54 L1720.28,689.91 L1720.50,691.50 L1720.63,692.48 L1720.73,693.58 L1720.83,694.80 L1720.91,696.12 L1720.98,697.53 L1721.04,699.01 L1721.10,700.55 L1721.15,702.14 L1721.19,703.76 L1721.24,705.41 L1721.29,707.08 L1721.34,708.73 L1721.39,710.38 L1721.45,712 L1721.52,713.58 L1721.60,715.10 L1721.68,716.54 L1721.77,717.98 L1721.87,719.40 L1721.96,720.83 L1722.06,722.26 L1722.16,723.68 L1722.26,725.11 L1722.36,726.54 L1722.47,727.98 L1722.57,729.43 L1722.68,730.89 L1722.78,732.37 L1722.89,733.86 L1722.99,735.36 L1723.10,736.89 L1723.20,738.43 L1723.30,740 L1723.39,741.40 L1723.47,742.84 L1723.56,744.34 L1723.64,745.87 L1723.73,747.43 L1723.81,749.02 L1723.90,750.63 L1723.98,752.25 L1724.06,753.89 L1724.15,755.52 L1724.23,757.15 L1724.32,758.77 L1724.40,760.38 L1724.49,761.96 L1724.57,763.51 L1724.66,765.03 L1724.75,766.51 L1724.84,767.95 L1724.93,769.33 L1725.02,770.65 L1725.11,771.90 L1725.21,773.09 L1725.30,774.20 L1725.45,775.90 L1725.59,777.52 L1725.73,779.05 L1725.88,780.49 L1726.03,781.81 L1726.20,783.01 L1726.39,784.08 L1726.60,785 L1727.08,786.55 L1727.60,787.30 L1728.12,786.54 L1728.60,785 L1728.82,784.07 L1729,783 L1729.16,781.81 L1729.31,780.49 L1729.46,779.08 L1729.62,777.58 L1729.80,776 L1729.94,774.84 L1730.09,773.59 L1730.24,772.27 L1730.39,770.87 L1730.56,769.42 L1730.72,767.91 L1730.89,766.37 L1731.06,764.79 L1731.23,763.19 L1731.41,761.58 L1731.58,759.96 L1731.76,758.35 L1731.93,756.75 L1732.10,755.18 L1732.27,753.64 L1732.44,752.14 L1732.60,750.70 L1732.78,749.16 L1732.96,747.66 L1733.14,746.17 L1733.32,744.71 L1733.50,743.26 L1733.69,741.82 L1733.87,740.38 L1734.04,738.94 L1734.22,737.50 L1734.39,736.04 L1734.55,734.57 L1734.71,733.08 L1734.86,731.55 L1735,730 L1735.12,728.61 L1735.23,727.19 L1735.33,725.76 L1735.43,724.30 L1735.52,722.84 L1735.61,721.35 L1735.70,719.86 L1735.78,718.36 L1735.86,716.86 L1735.94,715.35 L1736.02,713.84 L1736.09,712.34 L1736.17,710.84 L1736.25,709.35 L1736.33,707.86 L1736.42,706.39 L1736.51,704.94 L1736.60,703.50 L1736.70,701.98 L1736.80,700.44 L1736.90,698.89 L1736.99,697.33 L1737.09,695.77 L1737.19,694.22 L1737.29,692.67 L1737.39,691.14 L1737.49,689.63 L1737.59,688.14 L1737.70,686.68 L1737.81,685.25 L1737.93,683.87 L1738.05,682.53 L1738.17,681.24 L1738.30,680 L1738.49,678.34 L1738.67,676.74 L1738.87,675.20 L1739.06,673.73 L1739.28,672.33 L1739.50,670.99 L1739.74,669.71 L1740,668.50 L1740.39,666.83 L1740.81,665.26 L1741.27,663.88 L1741.80,662.80 L1742.52,661.84 L1743.30,661.40 L1744.16,661.84 L1745,662.80 L1745.56,663.74 L1746.06,664.90 L1746.53,666.19 L1747,667.50 L1747.41,668.74 L1747.79,670.05 L1748.17,671.39 L1748.56,672.73 L1749,674 L1749.45,675.19 L1749.91,676.39 L1750.40,677.55 L1750.92,678.60 L1751.50,679.50 L1752.31,680.51 L1753.18,681.34 L1754,681.60 L1754.69,681.07 L1755.32,679.94 L1755.92,678.49 L1756.50,677 L1756.94,675.79 L1757.35,674.46 L1757.75,673.03 L1758.13,671.53 L1758.51,670.01 L1758.89,668.49 L1759.30,667 L1759.68,665.65 L1760.07,664.27 L1760.45,662.89 L1760.85,661.50 L1761.24,660.11 L1761.65,658.73 L1762.07,657.36 L1762.50,656 L1762.92,654.66 L1763.33,653.27 L1763.74,651.88 L1764.17,650.51 L1764.62,649.17 L1765.10,647.91 L1765.62,646.74 L1766.20,645.70 L1766.96,644.57 L1767.78,643.54 L1768.64,642.63 L1769.55,641.87 L1770.50,641.30 L1771.55,640.95 L1772.64,640.84 L1773.79,640.83 L1775,640.80 L1776.31,640.74 L1777.71,640.72 L1779.16,640.71 L1780.60,640.71 L1782,640.70 L1783.27,640.71 L1784.53,640.76 L1785.78,640.80 L1787,640.76 L1788.20,640.60 L1789.34,640.24 L1790.45,639.72 L1791.55,639.16 L1792.66,638.68 L1793.80,638.40 L1795,638.37 L1796.21,638.52 L1797.44,638.76 L1798.71,639.05 L1800,639.30 L1801.24,639.52 L1802.50,639.77 L1803.78,640.03 L1805.10,640.28 L1806.47,640.51 L1807.90,640.70 L1809.13,640.83 L1810.40,640.94 L1811.72,641.04 L1813.07,641.12 L1814.44,641.19 L1815.83,641.23 L1817.22,641.25 L1818.62,641.24 L1820,641.20 L1821.47,641.12 L1822.97,640.99 L1824.50,640.82 L1826.04,640.63 L1827.57,640.42 L1829.07,640.21 L1830.54,639.99 L1831.95,639.79 L1833.30,639.60 L1834.83,639.37 L1836.31,639.10 L1837.74,638.84 L1839.11,638.62 L1840.43,638.46 L1841.70,638.40 L1843.10,638.48 L1844.41,638.68 L1845.68,638.94 L1847,639.20 L1848.14,639.44 L1849.26,639.71 L1850.41,639.99 L1851.64,640.26 L1853,640.50 L1854.22,640.66 L1855.55,640.80 L1856.96,640.92 L1858.43,641.03 L1859.95,641.13 L1861.48,641.23 L1863.02,641.32 L1864.53,641.41 L1866,641.50 L1867.44,641.59 L1868.89,641.67 L1870.35,641.74 L1871.80,641.80 L1873.25,641.87 L1874.69,641.94 L1876.11,642.02 L1877.52,642.10 L1878.90,642.20 L1880.29,642.32 L1881.65,642.45 L1882.99,642.59 L1884.32,642.74 L1885.64,642.89 L1886.97,643.03 L1888.32,643.17 L1889.70,643.30 L1891.01,643.41 L1892.31,643.52 L1893.60,643.62 L1894.91,643.72 L1896.23,643.82 L1897.59,643.91 L1899,644.01 L1900.46,644.10 L1902,644.20 L1903.23,644.27 L1904.50,644.35 L1905.81,644.42 L1907.16,644.49 L1908.54,644.56 L1909.95,644.63 L1911.39,644.70 L1912.84,644.77 L1914.31,644.84 L1915.79,644.92 L1917.28,644.99 L1918.78,645.07 L1920.27,645.15 L1921.76,645.23 L1923.24,645.31 L1924.70,645.40 L1926.16,645.49 L1927.62,645.59 L1929.10,645.69 L1930.59,645.79 L1932.09,645.90 L1933.59,646 L1935.10,646.11 L1936.61,646.22 L1938.12,646.33 L1939.62,646.45 L1941.13,646.56 L1942.63,646.67 L1944.12,646.78 L1945.61,646.89 L1947.09,646.99 L1948.55,647.10 L1950,647.20 L1951.53,647.31 L1953.05,647.41 L1954.55,647.52 L1956.04,647.63 L1957.53,647.74 L1959.01,647.84 L1960.48,647.95 L1961.95,648.05 L1963.43,648.15 L1964.90,648.25 L1966.39,648.35 L1967.87,648.44 L1969.37,648.53 L1970.88,648.62 L1972.40,648.70 L1973.81,648.77 L1975.21,648.83 L1976.61,648.89 L1978.01,648.94 L1979.41,648.99 L1980.81,649.03 L1982.21,649.08 L1983.63,649.12 L1985.05,649.16 L1986.48,649.20 L1987.93,649.25 L1989.39,649.30 L1990.87,649.35 L1992.37,649.40 L1993.89,649.46 L1995.43,649.53 L1997,649.60 L1998.31,649.67 L1999.64,649.74 L2000.97,649.81 L2002.32,649.89 L2003.69,649.97 L2005.06,650.05 L2006.45,650.14 L2007.85,650.23 L2009.26,650.32 L2010.68,650.42 L2012.11,650.51 L2013.55,650.61 L2015,650.70 L2016.46,650.80 L2017.93,650.90 L2019.40,650.99 L2020.89,651.09 L2022.38,651.19 L2023.88,651.28 L2025.38,651.37 L2026.89,651.46 L2028.41,651.55 L2029.94,651.64 L2031.47,651.72 L2033,651.80 L2034.38,651.87 L2035.77,651.94 L2037.16,652 L2038.57,652.07 L2039.99,652.14 L2041.42,652.20 L2042.86,652.27 L2044.31,652.33 L2045.76,652.39 L2047.22,652.46 L2048.69,652.52 L2050.16,652.58 L2051.64,652.64 L2053.13,652.70 L2054.62,652.76 L2056.11,652.82 L2057.60,652.87 L2059.10,652.93 L2060.60,652.99 L2062.10,653.05 L2063.60,653.10 L2065.10,653.16 L2066.60,653.21 L2068.10,653.27 L2069.60,653.32 L2071.10,653.38 L2072.59,653.43 L2074.08,653.49 L2075.57,653.54 L2077.05,653.59 L2078.53,653.65 L2080,653.70 L2081.47,653.75 L2082.94,653.80 L2084.41,653.86 L2085.89,653.91 L2087.36,653.96 L2088.84,654.01 L2090.32,654.06 L2091.80,654.10 L2093.28,654.15 L2094.76,654.20 L2096.24,654.25 L2097.72,654.29 L2099.20,654.34 L2100.67,654.39 L2102.15,654.43 L2103.63,654.48 L2105.11,654.52 L2106.58,654.57 L2108.06,654.61 L2109.53,654.66 L2111,654.70 L2112.47,654.75 L2113.93,654.79 L2115.40,654.84 L2116.86,654.88 L2118.32,654.93 L2119.77,654.97 L2121.22,655.02 L2122.67,655.06 L2124.12,655.11 L2125.56,655.15 L2127,655.20 L2128.51,655.25 L2130.01,655.30 L2131.51,655.35 L2133,655.40 L2134.48,655.45 L2135.96,655.50 L2137.43,655.55 L2138.90,655.60 L2140.36,655.65 L2141.83,655.70 L2143.29,655.75 L2144.74,655.80 L2146.20,655.86 L2147.66,655.91 L2149.12,655.96 L2150.58,656.01 L2152.04,656.06 L2153.51,656.10 L2154.97,656.15 L2156.45,656.20 L2157.92,656.25 L2159.41,656.29 L2160.90,656.34 L2162.39,656.39 L2163.90,656.43 L2165.41,656.47 L2166.93,656.52 L2168.46,656.56 L2170,656.60 L2171.40,656.64 L2172.81,656.67 L2174.22,656.71 L2175.65,656.74 L2177.08,656.77 L2178.51,656.80 L2179.95,656.84 L2181.40,656.87 L2182.86,656.90 L2184.31,656.93 L2185.78,656.96 L2187.24,656.99 L2188.71,657.01 L2190.19,657.04 L2191.66,657.07 L2193.14,657.10 L2194.62,657.12 L2196.10,657.15 L2197.58,657.18 L2199.06,657.20 L2200.54,657.23 L2202.02,657.26 L2203.50,657.28 L2204.98,657.31 L2206.45,657.33 L2207.93,657.36 L2209.40,657.39 L2210.86,657.41 L2212.33,657.44 L2213.79,657.47 L2215.24,657.49 L2216.69,657.52 L2218.13,657.55 L2219.57,657.57 L2221,657.60 L2222.50,657.63 L2223.99,657.66 L2225.48,657.69 L2226.97,657.71 L2228.45,657.74 L2229.93,657.77 L2231.41,657.80 L2232.88,657.83 L2234.36,657.85 L2235.83,657.88 L2237.30,657.91 L2238.77,657.94 L2240.23,657.96 L2241.70,657.99 L2243.16,658.02 L2244.62,658.05 L2246.08,658.07 L2247.54,658.10 L2249,658.13 L2250.46,658.16 L2251.92,658.19 L2253.38,658.21 L2254.84,658.24 L2256.30,658.27 L2257.75,658.30 L2259.21,658.33 L2260.68,658.35 L2262.14,658.38 L2263.60,658.41 L2265.07,658.44 L2266.53,658.47 L2268,658.50 L2269.47,658.53 L2270.94,658.56 L2272.40,658.59 L2273.87,658.63 L2275.34,658.66 L2276.81,658.69 L2278.27,658.73 L2279.74,658.76 L2281.20,658.80 L2282.67,658.84 L2284.14,658.87 L2285.60,658.91 L2287.07,658.94 L2288.54,658.98 L2290,659.01 L2291.47,659.05 L2292.94,659.08 L2294.40,659.12 L2295.87,659.15 L2297.34,659.19 L2298.81,659.22 L2300.28,659.25 L2301.74,659.28 L2303.21,659.31 L2304.69,659.34 L2306.16,659.37 L2307.63,659.39 L2309.10,659.42 L2310.57,659.44 L2312.05,659.46 L2313.52,659.48 L2315,659.50 L2316.45,659.52 L2317.90,659.53 L2319.35,659.54 L2320.80,659.55 L2322.25,659.56 L2323.70,659.56 L2325.16,659.57 L2326.61,659.57 L2328.07,659.57 L2329.52,659.57 L2330.98,659.57 L2332.44,659.57 L2333.90,659.57 L2335.35,659.57 L2336.81,659.57 L2338.27,659.56 L2339.73,659.56 L2341.19,659.56 L2342.65,659.55 L2344.10,659.55 L2345.56,659.55 L2347.02,659.55 L2348.48,659.55 L2349.93,659.55 L2351.39,659.55 L2352.84,659.55 L2354.30,659.55 L2355.75,659.55 L2357.20,659.56 L2358.65,659.57 L2360.10,659.58 L2361.55,659.59 L2363,659.60 L2364.49,659.62 L2366,659.63 L2367.52,659.65 L2369.07,659.67 L2370.63,659.69 L2372.20,659.72 L2373.78,659.74 L2375.36,659.77 L2376.96,659.80 L2378.55,659.83 L2380.15,659.85 L2381.75,659.88 L2383.34,659.91 L2384.93,659.94 L2386.51,659.98 L2388.08,660.01 L2389.63,660.04 L2391.18,660.07 L2392.70,660.10 L2394.21,660.13 L2395.69,660.16 L2397.16,660.19 L2398.59,660.21 L2400,660.24 L2401.38,660.26 L2402.72,660.29 L2404.04,660.31 L2405.31,660.33 L2406.55,660.35 L2407.74,660.37 L2408.89,660.39 L2410,660.40 L2411.77,660.42 L2413.42,660.43 L2414.97,660.45 L2416.44,660.46 L2417.84,660.46 L2419.20,660.47 L2420.54,660.48 L2421.86,660.48 L2423.20,660.49 L2424.58,660.49 L2426,660.50" stroke="#0072bd" stroke-width="7" stroke-dasharray="24.50 22.87 24.50 22.87 24.50 22.87 24.50 22.87 24.50 22.87 24.50 22.87 24.50 22.87 24.50 22.87 24.50 22.87 24.50 22.87 24.50 22.87 24.50 22.87 24.50 22.87 24.50 22.87 24.50 22.87 24.50 22.87 24.50 22.66 24.50 22.66 24.50 22.66 24.50 22.66 24.50 22.66 24.50 22.66 24.50 22.66 24.50 22.66 24.50 22.55 24.50 22.55 24.50 22.65 24.50 22.65 24.50 22.65 24.50 22.65 24.50 22.65 24.50 22.65 24.50 22.65 24.50 22.65 24.50 22.37 24.50 22.86 24.50 22.97 24.50 22.77 24.50 23.18 24.50 23.48 24.50 20.66 24.50 20.66 24.50 22.63 24.50 22.63 24.50 22.63 24.50 22.63 24.50 22.63 24.50 22.63 24.50 22.63 24.50 22.63 24.50 22.63 24.50 22.63 24.50 22.63 24.50 22.63 24.50 23.46 24.50 22.73 24.50 22.73 24.50 22.73 24.50 22.73 24.50 22.73 24.50 22.73 24.50 22.73 24.50 22.73 24.50 22.51 24.50 22.51 24.50 22.63 24.50 22.63 24.50 22.63 24.50 22.63 24.50 22.63 24.50 22.63 24.50 22.63 24.50 22.94 24.50 22.24 24.50 23.19 24.50 24.55 24.50 23.85 24.50 23.33 24.50 22.08 24.50 20.49 24.50 20.49 24.50 22.99 24.50 22.92 24.50 22.66 24.50 22.66 24.50 22.66 24.50 22.66 24.50 22.66 24.50 22.66 24.50 22.66 24.50 22.66 24.50 22.66 24.50 22.66 24.50 22.65 24.50 22.65"/></g>
<path d="M226,662 L962,662.30 L962.29,663.73 L962.59,665.12 L962.90,666.48 L963.20,667.84 L963.50,669.22 L963.79,670.66 L964.07,672.17 L964.35,673.77 L964.60,675.50 L964.75,676.67 L964.90,677.90 L965.04,679.17 L965.17,680.50 L965.30,681.86 L965.42,683.27 L965.53,684.71 L965.65,686.18 L965.76,687.68 L965.86,689.20 L965.97,690.74 L966.07,692.30 L966.17,693.87 L966.27,695.44 L966.37,697.02 L966.47,698.59 L966.57,700.16 L966.67,701.72 L966.77,703.27 L966.88,704.80 L966.99,706.31 L967.10,707.80 L967.21,709.28 L967.33,710.75 L967.45,712.22 L967.57,713.69 L967.68,715.15 L967.80,716.62 L967.92,718.08 L968.04,719.54 L968.16,721.01 L968.28,722.47 L968.40,723.94 L968.52,725.41 L968.63,726.88 L968.75,728.36 L968.86,729.84 L968.98,731.33 L969.09,732.83 L969.19,734.32 L969.30,735.83 L969.40,737.35 L969.50,738.87 L969.60,740.40 L969.69,741.80 L969.77,743.21 L969.85,744.63 L969.93,746.05 L970,747.48 L970.07,748.91 L970.15,750.35 L970.21,751.80 L970.28,753.25 L970.35,754.70 L970.42,756.16 L970.48,757.62 L970.54,759.08 L970.61,760.54 L970.67,762.01 L970.73,763.48 L970.80,764.95 L970.86,766.41 L970.93,767.88 L970.99,769.35 L971.05,770.81 L971.12,772.28 L971.19,773.74 L971.26,775.19 L971.33,776.65 L971.40,778.10 L971.47,779.55 L971.55,781 L971.62,782.46 L971.69,783.91 L971.76,785.37 L971.83,786.83 L971.91,788.30 L971.98,789.76 L972.05,791.22 L972.12,792.69 L972.20,794.15 L972.27,795.61 L972.34,797.07 L972.42,798.53 L972.49,799.98 L972.57,801.43 L972.65,802.88 L972.73,804.33 L972.81,805.77 L972.89,807.21 L972.97,808.64 L973.05,810.06 L973.14,811.48 L973.22,812.89 L973.31,814.30 L973.40,815.70 L973.50,817.24 L973.60,818.77 L973.71,820.30 L973.82,821.82 L973.93,823.34 L974.04,824.86 L974.15,826.37 L974.26,827.88 L974.38,829.38 L974.49,830.88 L974.61,832.37 L974.73,833.85 L974.85,835.34 L974.96,836.81 L975.08,838.28 L975.20,839.74 L975.32,841.20 L975.44,842.65 L975.55,844.10 L975.67,845.54 L975.79,846.97 L975.90,848.40 L976.02,849.92 L976.14,851.46 L976.25,853 L976.37,854.55 L976.49,856.11 L976.60,857.66 L976.71,859.20 L976.83,860.74 L976.94,862.26 L977.06,863.77 L977.18,865.26 L977.30,866.72 L977.42,868.16 L977.54,869.57 L977.67,870.94 L977.79,872.27 L977.93,873.56 L978.06,874.80 L978.20,876 L978.39,877.63 L978.56,879.19 L978.72,880.67 L978.88,882.10 L979.06,883.47 L979.27,884.79 L979.52,886.09 L979.83,887.35 L980.20,888.60 L980.70,889.95 L981.28,891.23 L981.92,892.45 L982.60,893.64 L983.30,894.83 L984.01,896.04 L984.70,897.30 L985.37,898.52 L986.07,899.74 L986.80,900.97 L987.53,902.21 L988.25,903.47 L988.94,904.75 L989.60,906.06 L990.20,907.40 L990.72,908.71 L991.21,910.07 L991.67,911.45 L992.10,912.86 L992.51,914.28 L992.90,915.70 L993.28,917.12 L993.64,918.52 L994,919.90 L994.36,921.33 L994.70,922.76 L995.01,924.17 L995.32,925.58 L995.61,926.98 L995.90,928.39 L996.19,929.79 L996.50,931.20 L996.81,932.61 L997.11,934.03 L997.42,935.44 L997.72,936.85 L998.03,938.27 L998.34,939.68 L998.66,941.09 L999,942.50 L999.33,943.94 L999.63,945.40 L999.93,946.88 L1000.25,948.34 L1000.59,949.79 L1000.99,951.19 L1001.45,952.53 L1002,953.80 L1002.64,955.05 L1003.32,956.27 L1004.05,957.44 L1004.86,958.56 L1005.74,959.60 L1006.72,960.55 L1007.80,961.40 L1008.89,962.06 L1010.09,962.62 L1011.40,963.10 L1012.77,963.51 L1014.19,963.87 L1015.63,964.20 L1017.06,964.50 L1018.46,964.80 L1019.80,965.10 L1021.15,965.45 L1022.51,965.83 L1023.85,966.21 L1025.19,966.56 L1026.52,966.84 L1027.83,967.01 L1029.13,967.04 L1030.40,966.90 L1031.70,966.54 L1032.98,965.99 L1034.24,965.28 L1035.48,964.46 L1036.71,963.57 L1037.94,962.65 L1039.17,961.75 L1040.40,960.90 L1041.53,960.15 L1042.67,959.39 L1043.80,958.62 L1044.93,957.84 L1046.06,957.04 L1047.18,956.24 L1048.29,955.43 L1049.40,954.61 L1050.50,953.80 L1051.58,952.99 L1052.65,952.17 L1053.72,951.34 L1054.78,950.51 L1055.84,949.67 L1056.89,948.83 L1057.93,947.99 L1058.97,947.14 L1060,946.30 L1061.13,945.38 L1062.25,944.46 L1063.37,943.54 L1064.48,942.61 L1065.58,941.68 L1066.67,940.74 L1067.74,939.78 L1068.80,938.80 L1069.83,937.80 L1070.84,936.79 L1071.84,935.75 L1072.82,934.71 L1073.80,933.66 L1074.79,932.61 L1075.78,931.55 L1076.80,930.50 L1077.76,929.53 L1078.73,928.55 L1079.71,927.58 L1080.69,926.60 L1081.68,925.61 L1082.67,924.63 L1083.66,923.65 L1084.63,922.67 L1085.60,921.70 L1086.65,920.63 L1087.69,919.56 L1088.72,918.49 L1089.74,917.43 L1090.77,916.36 L1091.80,915.30 L1092.84,914.25 L1093.90,913.20 L1094.86,912.26 L1095.84,911.33 L1096.82,910.40 L1097.81,909.47 L1098.80,908.55 L1099.78,907.63 L1100.77,906.72 L1101.74,905.81 L1102.70,904.90 L1103.72,903.94 L1104.72,902.98 L1105.71,902.04 L1106.70,901.10 L1107.69,900.15 L1108.68,899.21 L1109.68,898.26 L1110.70,897.30 L1111.66,896.40 L1112.62,895.49 L1113.60,894.58 L1114.58,893.67 L1115.56,892.75 L1116.55,891.84 L1117.53,890.92 L1118.52,890.01 L1119.50,889.10 L1120.60,888.08 L1121.70,887.07 L1122.80,886.05 L1123.90,885.04 L1125,884.03 L1126.10,883.02 L1127.20,882.01 L1128.30,881 L1129.40,880 L1130.50,878.99 L1131.60,877.99 L1132.70,876.99 L1133.80,875.99 L1134.90,874.99 L1136,873.99 L1137.10,873 L1138.20,872.02 L1139.30,871.04 L1140.40,870.07 L1141.50,869.10 L1142.60,868.13 L1143.70,867.16 L1144.80,866.18 L1145.90,865.20 L1147,864.21 L1148.10,863.20 L1149.20,862.20 L1150.30,861.19 L1151.39,860.18 L1152.49,859.18 L1153.60,858.19 L1154.70,857.20 L1155.79,856.23 L1156.88,855.26 L1157.97,854.30 L1159.05,853.34 L1160.15,852.39 L1161.25,851.45 L1162.37,850.52 L1163.50,849.60 L1164.66,848.69 L1165.83,847.80 L1167.02,846.92 L1168.22,846.05 L1169.42,845.19 L1170.62,844.33 L1171.81,843.46 L1173,842.60 L1174.17,841.75 L1175.33,840.90 L1176.50,840.06 L1177.66,839.22 L1178.82,838.38 L1179.98,837.53 L1181.14,836.67 L1182.30,835.80 L1183.35,834.98 L1184.40,834.15 L1185.45,833.30 L1186.49,832.45 L1187.54,831.60 L1188.59,830.75 L1189.65,829.91 L1190.72,829.09 L1191.80,828.30 L1192.90,827.54 L1194.01,826.79 L1195.13,826.07 L1196.26,825.35 L1197.39,824.65 L1198.53,823.94 L1199.66,823.24 L1200.78,822.52 L1201.90,821.80 L1203.13,820.98 L1204.36,820.15 L1205.58,819.32 L1206.80,818.49 L1208.02,817.65 L1209.24,816.83 L1210.47,816.01 L1211.70,815.20 L1212.94,814.40 L1214.18,813.61 L1215.43,812.83 L1216.68,812.05 L1217.93,811.28 L1219.19,810.52 L1220.44,809.76 L1221.70,809 L1222.95,808.26 L1224.19,807.53 L1225.44,806.80 L1226.69,806.08 L1227.94,805.36 L1229.19,804.64 L1230.45,803.92 L1231.70,803.20 L1232.96,802.47 L1234.22,801.75 L1235.48,801.03 L1236.74,800.31 L1238,799.58 L1239.27,798.86 L1240.53,798.13 L1241.80,797.40 L1243.08,796.65 L1244.37,795.90 L1245.65,795.15 L1246.93,794.39 L1248.22,793.64 L1249.51,792.89 L1250.80,792.14 L1252.10,791.40 L1253.40,790.66 L1254.71,789.93 L1256.01,789.19 L1257.32,788.47 L1258.64,787.74 L1259.95,787.02 L1261.27,786.31 L1262.60,785.60 L1263.79,784.97 L1264.98,784.35 L1266.18,783.74 L1267.39,783.13 L1268.59,782.52 L1269.80,781.91 L1271,781.31 L1272.20,780.70 L1273.40,780.10 L1274.73,779.43 L1276.05,778.76 L1277.37,778.09 L1278.69,777.42 L1280.02,776.76 L1281.34,776.10 L1282.67,775.45 L1284,774.80 L1285.30,774.18 L1286.56,773.59 L1287.79,773.01 L1289.04,772.44 L1290.33,771.85 L1291.70,771.22 L1293.18,770.54 L1294.80,769.80 L1295.82,769.33 L1296.89,768.82 L1298,768.30 L1299.15,767.75 L1300.34,767.18 L1301.56,766.59 L1302.82,765.99 L1304.11,765.37 L1305.43,764.74 L1306.77,764.09 L1308.14,763.44 L1309.54,762.78 L1310.95,762.12 L1312.38,761.45 L1313.83,760.78 L1315.29,760.11 L1316.76,759.44 L1318.24,758.78 L1319.73,758.12 L1321.22,757.47 L1322.72,756.84 L1324.21,756.21 L1325.70,755.60 L1326.95,755.10 L1328.21,754.60 L1329.49,754.09 L1330.78,753.59 L1332.09,753.09 L1333.41,752.58 L1334.74,752.08 L1336.08,751.58 L1337.44,751.08 L1338.80,750.57 L1340.18,750.07 L1341.56,749.57 L1342.95,749.07 L1344.35,748.58 L1345.76,748.08 L1347.17,747.58 L1348.59,747.09 L1350.01,746.60 L1351.43,746.11 L1352.86,745.62 L1354.29,745.13 L1355.71,744.65 L1357.14,744.17 L1358.57,743.69 L1360,743.21 L1361.43,742.73 L1362.85,742.26 L1364.27,741.79 L1365.69,741.33 L1367.10,740.87 L1368.51,740.41 L1369.91,739.95 L1371.30,739.50 L1372.72,739.04 L1374.14,738.58 L1375.57,738.13 L1376.99,737.68 L1378.41,737.23 L1379.84,736.78 L1381.26,736.34 L1382.69,735.89 L1384.11,735.45 L1385.54,735.02 L1386.97,734.58 L1388.39,734.15 L1389.82,733.72 L1391.25,733.29 L1392.68,732.87 L1394.11,732.44 L1395.54,732.02 L1396.96,731.61 L1398.39,731.19 L1399.82,730.78 L1401.25,730.37 L1402.68,729.96 L1404.12,729.55 L1405.55,729.15 L1406.98,728.75 L1408.41,728.35 L1409.84,727.95 L1411.27,727.55 L1412.70,727.16 L1414.14,726.77 L1415.57,726.39 L1417,726 L1418.42,725.62 L1419.84,725.24 L1421.26,724.87 L1422.69,724.50 L1424.11,724.14 L1425.53,723.77 L1426.95,723.41 L1428.38,723.05 L1429.80,722.70 L1431.22,722.34 L1432.65,721.99 L1434.07,721.64 L1435.50,721.30 L1436.92,720.95 L1438.35,720.61 L1439.77,720.27 L1441.20,719.93 L1442.62,719.60 L1444.05,719.26 L1445.47,718.93 L1446.90,718.59 L1448.33,718.26 L1449.75,717.93 L1451.18,717.60 L1452.61,717.28 L1454.03,716.95 L1455.46,716.62 L1456.89,716.30 L1458.32,715.97 L1459.74,715.65 L1461.17,715.32 L1462.60,715 L1464.03,714.68 L1465.45,714.36 L1466.88,714.04 L1468.30,713.72 L1469.73,713.40 L1471.16,713.08 L1472.58,712.76 L1474.01,712.45 L1475.44,712.13 L1476.86,711.82 L1478.29,711.51 L1479.72,711.20 L1481.15,710.89 L1482.58,710.58 L1484,710.28 L1485.43,709.97 L1486.86,709.67 L1488.29,709.37 L1489.72,709.07 L1491.15,708.77 L1492.58,708.47 L1494.01,708.17 L1495.43,707.88 L1496.86,707.58 L1498.29,707.29 L1499.72,707 L1501.15,706.72 L1502.58,706.43 L1504.01,706.14 L1505.44,705.86 L1506.87,705.58 L1508.30,705.30 L1509.77,705.01 L1511.24,704.73 L1512.70,704.45 L1514.17,704.16 L1515.64,703.88 L1517.10,703.60 L1518.57,703.32 L1520.03,703.04 L1521.50,702.77 L1522.96,702.49 L1524.43,702.22 L1525.90,701.95 L1527.36,701.68 L1528.83,701.41 L1530.29,701.14 L1531.76,700.88 L1533.23,700.62 L1534.70,700.36 L1536.17,700.10 L1537.64,699.84 L1539.11,699.59 L1540.58,699.34 L1542.05,699.09 L1543.53,698.84 L1545.01,698.60 L1546.48,698.36 L1547.96,698.12 L1549.44,697.89 L1550.93,697.66 L1552.41,697.43 L1553.90,697.20 L1555.37,696.98 L1556.83,696.77 L1558.30,696.56 L1559.77,696.35 L1561.25,696.14 L1562.72,695.94 L1564.20,695.75 L1565.67,695.55 L1567.15,695.36 L1568.63,695.17 L1570.11,694.99 L1571.60,694.80 L1573.08,694.62 L1574.56,694.44 L1576.05,694.26 L1577.53,694.09 L1579.02,693.91 L1580.51,693.73 L1581.99,693.56 L1583.48,693.39 L1584.97,693.22 L1586.45,693.04 L1587.94,692.87 L1589.43,692.70 L1590.91,692.53 L1592.40,692.35 L1593.88,692.18 L1595.37,692.01 L1596.85,691.83 L1598.34,691.66 L1599.82,691.48 L1601.30,691.30 L1602.78,691.12 L1604.27,690.94 L1605.76,690.76 L1607.25,690.57 L1608.75,690.39 L1610.25,690.20 L1611.75,690.02 L1613.26,689.83 L1614.76,689.64 L1616.27,689.46 L1617.78,689.27 L1619.29,689.09 L1620.79,688.90 L1622.30,688.72 L1623.80,688.53 L1625.30,688.35 L1626.80,688.17 L1628.30,687.99 L1629.79,687.81 L1631.27,687.63 L1632.76,687.46 L1634.23,687.28 L1635.71,687.11 L1637.17,686.95 L1638.63,686.78 L1640.08,686.62 L1641.52,686.45 L1642.96,686.30 L1644.38,686.14 L1645.80,685.99 L1647.20,685.84 L1648.60,685.70 L1650.19,685.54 L1651.81,685.38 L1653.46,685.21 L1655.13,685.05 L1656.81,684.89 L1658.50,684.73 L1660.20,684.58 L1661.89,684.42 L1663.58,684.27 L1665.26,684.12 L1666.93,683.97 L1668.57,683.83 L1670.19,683.69 L1671.78,683.55 L1673.33,683.42 L1674.84,683.30 L1676.31,683.18 L1677.72,683.07 L1679.08,682.97 L1680.38,682.87 L1681.62,682.78 L1682.78,682.70 L1683.87,682.62 L1684.88,682.56 L1685.80,682.50 L1687.44,682.42 L1688.78,682.37 L1689.96,682.35 L1691.09,682.33 L1692.30,682.30 L1693.26,681.23 L1694.23,680.17 L1695.10,678.80 L1695.57,677.71 L1696.01,676.43 L1696.41,675.02 L1696.78,673.51 L1697.11,671.94 L1697.41,670.36 L1697.68,668.79 L1697.90,667.30 L1698.07,665.87 L1698.17,664.44 L1698.23,663.01 L1698.26,661.57 L1698.28,660.13 L1698.29,658.69 L1698.33,657.25 L1698.40,655.80 L1698.50,654.32 L1698.61,652.83 L1698.73,651.33 L1698.86,649.84 L1698.99,648.34 L1699.13,646.85 L1699.26,645.37 L1699.40,643.90 L1699.53,642.53 L1699.68,641.22 L1699.82,639.94 L1699.97,638.66 L1700.11,637.33 L1700.25,635.94 L1700.38,634.44 L1700.50,632.80 L1700.57,631.65 L1700.63,630.45 L1700.69,629.20 L1700.74,627.89 L1700.79,626.54 L1700.83,625.15 L1700.87,623.73 L1700.91,622.26 L1700.95,620.77 L1700.98,619.25 L1701.02,617.71 L1701.05,616.16 L1701.09,614.58 L1701.12,613 L1701.16,611.41 L1701.20,609.82 L1701.25,608.23 L1701.29,606.64 L1701.34,605.06 L1701.40,603.50 L1701.45,602.13 L1701.50,600.74 L1701.56,599.33 L1701.61,597.90 L1701.67,596.46 L1701.72,595.01 L1701.78,593.54 L1701.84,592.06 L1701.89,590.57 L1701.95,589.08 L1702.01,587.59 L1702.08,586.09 L1702.14,584.59 L1702.20,583.09 L1702.27,581.59 L1702.34,580.10 L1702.41,578.61 L1702.48,577.13 L1702.55,575.66 L1702.62,574.20 L1702.70,572.76 L1702.77,571.33 L1702.85,569.92 L1702.93,568.52 L1703.02,567.15 L1703.10,565.80 L1703.20,564.23 L1703.31,562.68 L1703.43,561.15 L1703.54,559.63 L1703.66,558.12 L1703.79,556.63 L1703.92,555.15 L1704.04,553.67 L1704.17,552.21 L1704.30,550.76 L1704.43,549.32 L1704.56,547.89 L1704.69,546.46 L1704.82,545.04 L1704.94,543.63 L1705.06,542.21 L1705.18,540.81 L1705.29,539.40 L1705.40,538 L1705.51,536.48 L1705.62,534.97 L1705.73,533.47 L1705.84,531.99 L1705.94,530.52 L1706.05,529.05 L1706.15,527.59 L1706.24,526.13 L1706.34,524.68 L1706.44,523.23 L1706.53,521.79 L1706.63,520.34 L1706.72,518.88 L1706.81,517.43 L1706.91,515.97 L1707,514.50 L1707.09,513.01 L1707.18,511.49 L1707.27,509.95 L1707.35,508.39 L1707.44,506.83 L1707.52,505.26 L1707.60,503.70 L1707.68,502.15 L1707.76,500.61 L1707.85,499.10 L1707.93,497.61 L1708.02,496.16 L1708.11,494.74 L1708.20,493.37 L1708.30,492.06 L1708.40,490.80 L1708.55,489.12 L1708.71,487.54 L1708.87,486.04 L1709.03,484.60 L1709.20,483.19 L1709.37,481.79 L1709.54,480.36 L1709.70,478.90 L1709.84,477.56 L1709.98,476.21 L1710.11,474.86 L1710.24,473.51 L1710.38,472.16 L1710.52,470.81 L1710.67,469.46 L1710.83,468.13 L1711,466.80 L1711.19,465.35 L1711.38,463.91 L1711.57,462.47 L1711.77,461.04 L1711.99,459.61 L1712.25,458.20 L1712.55,456.79 L1712.90,455.40 L1713.30,454.02 L1713.75,452.64 L1714.24,451.27 L1714.76,449.92 L1715.31,448.57 L1715.88,447.23 L1716.48,445.91 L1717.10,444.60 L1717.77,443.31 L1718.50,442.05 L1719.28,440.81 L1720.07,439.58 L1720.85,438.34 L1721.60,437.09 L1722.29,435.82 L1722.90,434.50 L1723.42,433.14 L1723.88,431.74 L1724.29,430.33 L1724.66,428.89 L1725,427.45 L1725.33,425.99 L1725.66,424.54 L1726,423.10 L1726.34,421.65 L1726.67,420.19 L1726.98,418.72 L1727.28,417.26 L1727.58,415.79 L1727.88,414.32 L1728.19,412.86 L1728.50,411.40 L1728.82,409.96 L1729.13,408.51 L1729.45,407.07 L1729.77,405.64 L1730.09,404.20 L1730.42,402.77 L1730.76,401.33 L1731.10,399.90 L1731.44,398.46 L1731.77,397.02 L1732.10,395.57 L1732.44,394.12 L1732.80,392.69 L1733.19,391.27 L1733.62,389.87 L1734.10,388.50 L1734.58,387.15 L1735.06,385.76 L1735.55,384.37 L1736.08,383 L1736.67,381.70 L1737.36,380.49 L1738.16,379.41 L1739.10,378.50 L1740.16,377.82 L1741.37,377.31 L1742.71,376.94 L1744.14,376.66 L1745.62,376.44 L1747.12,376.25 L1748.61,376.03 L1750.04,375.76 L1751.40,375.40 L1752.78,374.87 L1754.13,374.21 L1755.47,373.49 L1756.79,372.77 L1758.10,372.12 L1759.41,371.60 L1760.70,371.27 L1762,371.20 L1763.31,371.42 L1764.61,371.90 L1765.90,372.57 L1767.19,373.38 L1768.47,374.26 L1769.74,375.16 L1771.02,376.03 L1772.30,376.80 L1773.58,377.49 L1774.86,378.15 L1776.14,378.82 L1777.43,379.48 L1778.70,380.17 L1779.95,380.87 L1781.19,381.61 L1782.40,382.40 L1783.59,383.25 L1784.76,384.13 L1785.90,385.06 L1787.03,386 L1788.15,386.97 L1789.27,387.95 L1790.38,388.93 L1791.50,389.90 L1792.51,390.78 L1793.52,391.67 L1794.52,392.57 L1795.52,393.48 L1796.52,394.39 L1797.51,395.30 L1798.51,396.21 L1799.50,397.11 L1800.50,398 L1801.60,398.97 L1802.71,399.93 L1803.81,400.89 L1804.91,401.84 L1806.01,402.79 L1807.11,403.75 L1808.21,404.72 L1809.30,405.70 L1810.28,406.60 L1811.26,407.52 L1812.24,408.45 L1813.22,409.39 L1814.19,410.32 L1815.16,411.26 L1816.14,412.18 L1817.12,413.10 L1818.10,414 L1819.18,414.97 L1820.27,415.93 L1821.36,416.87 L1822.45,417.80 L1823.54,418.74 L1824.63,419.68 L1825.72,420.63 L1826.80,421.60 L1827.78,422.49 L1828.76,423.39 L1829.74,424.30 L1830.72,425.22 L1831.69,426.14 L1832.67,427.06 L1833.64,427.97 L1834.62,428.89 L1835.60,429.80 L1836.70,430.82 L1837.79,431.84 L1838.89,432.86 L1839.99,433.88 L1841.09,434.90 L1842.19,435.91 L1843.29,436.91 L1844.40,437.90 L1845.49,438.86 L1846.59,439.79 L1847.70,440.72 L1848.80,441.64 L1849.91,442.56 L1851.01,443.49 L1852.11,444.44 L1853.20,445.40 L1854.19,446.30 L1855.17,447.21 L1856.15,448.13 L1857.12,449.06 L1858.09,449.99 L1859.07,450.93 L1860.04,451.86 L1861.02,452.78 L1862,453.70 L1863.10,454.71 L1864.19,455.72 L1865.29,456.73 L1866.39,457.74 L1867.49,458.74 L1868.59,459.73 L1869.70,460.72 L1870.80,461.70 L1871.88,462.65 L1872.97,463.60 L1874.06,464.54 L1875.14,465.47 L1876.23,466.40 L1877.32,467.33 L1878.41,468.26 L1879.50,469.20 L1880.59,470.15 L1881.68,471.11 L1882.77,472.08 L1883.85,473.04 L1884.95,474 L1886.05,474.95 L1887.17,475.88 L1888.30,476.80 L1889.47,477.71 L1890.66,478.60 L1891.86,479.48 L1893.07,480.35 L1894.29,481.21 L1895.50,482.07 L1896.71,482.93 L1897.90,483.80 L1899.06,484.65 L1900.20,485.51 L1901.34,486.36 L1902.48,487.21 L1903.62,488.06 L1904.77,488.90 L1905.93,489.75 L1907.10,490.60 L1908.20,491.38 L1909.32,492.16 L1910.44,492.94 L1911.58,493.71 L1912.71,494.49 L1913.85,495.27 L1914.98,496.04 L1916.10,496.82 L1917.20,497.60 L1918.38,498.45 L1919.55,499.31 L1920.70,500.17 L1921.85,501.03 L1923,501.89 L1924.15,502.74 L1925.32,503.58 L1926.50,504.40 L1927.66,505.19 L1928.76,505.93 L1929.84,506.64 L1930.94,507.36 L1932.10,508.10 L1933.35,508.88 L1934.74,509.74 L1936.30,510.70 L1937.16,511.23 L1938.08,511.78 L1939.06,512.37 L1940.08,512.99 L1941.16,513.63 L1942.27,514.30 L1943.43,514.99 L1944.63,515.70 L1945.86,516.42 L1947.13,517.17 L1948.42,517.93 L1949.74,518.71 L1951.09,519.50 L1952.45,520.29 L1953.83,521.10 L1955.23,521.91 L1956.64,522.73 L1958.06,523.55 L1959.48,524.37 L1960.90,525.19 L1962.33,526.01 L1963.75,526.82 L1965.16,527.62 L1966.57,528.42 L1967.96,529.21 L1969.34,529.99 L1970.69,530.75 L1972.03,531.50 L1973.34,532.23 L1974.63,532.94 L1975.88,533.63 L1977.10,534.30 L1978.49,535.06 L1979.86,535.80 L1981.22,536.54 L1982.58,537.27 L1983.92,537.99 L1985.25,538.70 L1986.57,539.40 L1987.89,540.10 L1989.20,540.79 L1990.51,541.48 L1991.81,542.15 L1993.11,542.83 L1994.40,543.49 L1995.70,544.16 L1996.99,544.81 L1998.29,545.47 L1999.59,546.12 L2000.89,546.76 L2002.19,547.41 L2003.50,548.05 L2004.81,548.69 L2006.13,549.33 L2007.46,549.96 L2008.80,550.60 L2010.14,551.23 L2011.49,551.86 L2012.84,552.49 L2014.19,553.11 L2015.54,553.72 L2016.90,554.33 L2018.26,554.94 L2019.62,555.55 L2020.98,556.15 L2022.34,556.75 L2023.71,557.34 L2025.07,557.93 L2026.44,558.52 L2027.81,559.10 L2029.18,559.68 L2030.55,560.26 L2031.91,560.84 L2033.28,561.41 L2034.65,561.98 L2036.02,562.55 L2037.39,563.11 L2038.76,563.68 L2040.13,564.24 L2041.50,564.80 L2042.85,565.35 L2044.21,565.90 L2045.56,566.44 L2046.91,566.99 L2048.26,567.53 L2049.62,568.06 L2050.97,568.59 L2052.32,569.13 L2053.68,569.65 L2055.03,570.18 L2056.38,570.70 L2057.74,571.22 L2059.10,571.74 L2060.45,572.25 L2061.81,572.77 L2063.17,573.28 L2064.53,573.79 L2065.89,574.29 L2067.26,574.80 L2068.62,575.30 L2069.99,575.80 L2071.36,576.30 L2072.73,576.80 L2074.10,577.30 L2075.49,577.80 L2076.87,578.30 L2078.26,578.79 L2079.65,579.29 L2081.04,579.78 L2082.43,580.27 L2083.83,580.76 L2085.22,581.24 L2086.62,581.73 L2088.02,582.21 L2089.41,582.69 L2090.81,583.17 L2092.22,583.64 L2093.62,584.11 L2095.02,584.58 L2096.43,585.05 L2097.83,585.52 L2099.24,585.98 L2100.65,586.44 L2102.05,586.90 L2103.46,587.35 L2104.88,587.80 L2106.29,588.25 L2107.70,588.70 L2109.12,589.15 L2110.54,589.59 L2111.97,590.03 L2113.39,590.47 L2114.82,590.90 L2116.25,591.34 L2117.68,591.77 L2119.11,592.20 L2120.54,592.62 L2121.98,593.04 L2123.41,593.46 L2124.84,593.88 L2126.28,594.30 L2127.72,594.71 L2129.15,595.12 L2130.59,595.53 L2132.03,595.93 L2133.47,596.34 L2134.91,596.74 L2136.35,597.14 L2137.78,597.53 L2139.22,597.92 L2140.66,598.31 L2142.10,598.70 L2143.53,599.08 L2144.97,599.46 L2146.40,599.84 L2147.84,600.21 L2149.27,600.57 L2150.71,600.94 L2152.15,601.30 L2153.59,601.66 L2155.03,602.01 L2156.47,602.37 L2157.91,602.72 L2159.34,603.07 L2160.78,603.42 L2162.22,603.76 L2163.66,604.11 L2165.10,604.45 L2166.54,604.80 L2167.98,605.14 L2169.42,605.48 L2170.86,605.83 L2172.29,606.17 L2173.73,606.51 L2175.17,606.86 L2176.60,607.20 L2178.02,607.54 L2179.43,607.88 L2180.83,608.23 L2182.23,608.57 L2183.62,608.91 L2185.01,609.25 L2186.40,609.58 L2187.78,609.92 L2189.16,610.26 L2190.55,610.60 L2191.93,610.93 L2193.32,611.27 L2194.72,611.60 L2196.12,611.93 L2197.53,612.26 L2198.94,612.59 L2200.37,612.92 L2201.80,613.25 L2203.25,613.58 L2204.71,613.91 L2206.18,614.23 L2207.67,614.56 L2209.18,614.88 L2210.70,615.20 L2212.04,615.48 L2213.39,615.76 L2214.75,616.04 L2216.13,616.31 L2217.51,616.59 L2218.91,616.87 L2220.31,617.15 L2221.73,617.42 L2223.15,617.70 L2224.58,617.98 L2226.02,618.25 L2227.46,618.52 L2228.92,618.80 L2230.37,619.07 L2231.84,619.34 L2233.30,619.61 L2234.77,619.88 L2236.25,620.15 L2237.73,620.41 L2239.20,620.68 L2240.68,620.94 L2242.17,621.20 L2243.65,621.46 L2245.13,621.72 L2246.61,621.97 L2248.09,622.23 L2249.57,622.48 L2251.04,622.73 L2252.51,622.97 L2253.98,623.22 L2255.44,623.46 L2256.90,623.70 L2258.37,623.94 L2259.84,624.18 L2261.31,624.41 L2262.79,624.64 L2264.26,624.87 L2265.74,625.10 L2267.22,625.32 L2268.70,625.55 L2270.18,625.77 L2271.66,625.99 L2273.14,626.20 L2274.62,626.42 L2276.10,626.63 L2277.58,626.85 L2279.07,627.06 L2280.55,627.27 L2282.04,627.48 L2283.52,627.68 L2285.01,627.89 L2286.49,628.09 L2287.98,628.30 L2289.46,628.50 L2290.95,628.70 L2292.43,628.90 L2293.92,629.11 L2295.40,629.31 L2296.89,629.51 L2298.37,629.70 L2299.85,629.90 L2301.34,630.10 L2302.82,630.30 L2304.30,630.50 L2305.78,630.70 L2307.26,630.89 L2308.74,631.09 L2310.22,631.29 L2311.69,631.48 L2313.17,631.67 L2314.65,631.87 L2316.14,632.06 L2317.62,632.25 L2319.10,632.44 L2320.58,632.63 L2322.06,632.81 L2323.54,633 L2325.02,633.19 L2326.50,633.37 L2327.98,633.56 L2329.46,633.74 L2330.94,633.92 L2332.42,634.11 L2333.90,634.29 L2335.37,634.47 L2336.85,634.65 L2338.33,634.83 L2339.81,635.01 L2341.28,635.18 L2342.76,635.36 L2344.23,635.53 L2345.71,635.71 L2347.18,635.88 L2348.66,636.06 L2350.13,636.23 L2351.60,636.40 L2353.06,636.57 L2354.53,636.74 L2356,636.91 L2357.49,637.08 L2358.98,637.25 L2360.47,637.42 L2361.97,637.59 L2363.48,637.76 L2364.98,637.93 L2366.49,638.10 L2367.99,638.27 L2369.50,638.44 L2371,638.60 L2372.50,638.77 L2374,638.93 L2375.49,639.10 L2376.98,639.26 L2378.46,639.42 L2379.93,639.57 L2381.40,639.73 L2382.85,639.88 L2384.29,640.04 L2385.72,640.18 L2387.14,640.33 L2388.55,640.48 L2389.93,640.62 L2391.31,640.76 L2392.66,640.89 L2394,641.02 L2395.32,641.15 L2396.62,641.28 L2397.90,641.40 L2399.54,641.55 L2401.15,641.70 L2402.73,641.84 L2404.27,641.98 L2405.79,642.10 L2407.29,642.23 L2408.76,642.35 L2410.22,642.47 L2411.67,642.58 L2413.10,642.69 L2414.52,642.80 L2415.94,642.91 L2417.36,643.02 L2418.78,643.13 L2420.21,643.24 L2421.64,643.35 L2423.08,643.46 L2424.53,643.58 L2426,643.70" stroke="#ff0000" stroke-width="7" stroke-dasharray="7.00 4.83 7.00 4.83 7.00 4.83 7.00 4.83 7.00 4.83 7.00 4.83 7.00 4.83 7.00 4.83 7.00 4.83 7.00 4.83 7.00 4.83 7.00 4.83 7.00 4.83 7.00 4.83 7.00 4.83 7.00 4.83 7.00 4.83 7.00 4.83 7.00 4.83 7.00 4.83 7.00 4.83 7.00 4.83 7.00 4.83 7.00 4.83 7.00 4.83 7.00 4.83 7.00 4.83 7.00 4.83 7.00 4.83 7.00 4.83 7.00 4.83 7.00 4.83 7.00 4.83 7.00 4.83 7.00 4.83 7.00 4.83 7.00 4.83 7.00 4.83 7.00 4.83 7.00 4.83 7.00 4.83 7.00 4.83 7.00 4.83 7.00 4.83 7.00 4.83 7.00 4.83 7.00 4.83 7.00 4.83 7.00 4.83 7.00 4.83 7.00 4.83 7.00 4.83 7.00 4.83 7.00 4.83 7.00 4.83 7.00 4.83 7.00 4.83 7.00 4.83 7.00 4.83 7.00 4.83 7.00 4.83 7.00 4.72 7.00 4.72 7.00 4.84 7.00 4.84 7.00 4.84 7.00 4.84 7.00 4.84 7.00 4.83 7.00 4.83 7.00 4.83 7.00 4.83 7.00 4.83 7.00 4.83 7.00 4.83 7.00 4.83 7.00 4.83 7.00 4.83 7.00 4.83 7.00 4.83 7.00 4.49 7.00 4.49 7.00 4.87 7.00 4.87 7.00 4.87 7.00 4.87 7.00 4.87 7.00 4.56 7.00 4.56 7.00 4.56 7.00 4.76 7.00 4.76 7.00 4.76 7.00 4.68 7.00 4.68 7.00 4.68 7.00 4.68 7.00 4.68 7.00 4.68 7.00 4.68 7.00 4.99 7.00 4.99 7.00 4.99 7.00 4.99 7.00 4.99 7.00 4.99 7.00 4.99 7.00 4.71 7.00 4.71 7.00 4.71 7.00 4.71 7.00 4.71 7.00 4.71 7.00 4.85 7.00 4.85 7.00 4.85 7.00 4.85 7.00 4.85 7.00 4.91 7.00 4.91 7.00 4.91 7.00 4.91 7.00 4.79 7.00 4.79 7.00 4.79 7.00 4.79 7.00 4.79 7.00 4.78 7.00 4.78 7.00 4.78 7.00 4.78 7.00 4.78 7.00 4.84 7.00 4.84 7.00 4.84 7.00 4.84 7.00 4.84 7.00 4.84 7.00 4.80 7.00 4.80 7.00 4.80 7.00 4.80 7.00 4.80 7.00 4.80 7.00 4.80 7.00 4.80 7.00 4.80 7.00 4.80 7.00 4.78 7.00 4.78 7.00 4.78 7.00 4.78 7.00 5.34 7.00 5.34 7.00 4.53 7.00 4.53 7.00 4.79 7.00 4.79 7.00 4.79 7.00 4.79 7.00 4.79 7.00 4.79 7.00 4.79 7.00 4.79 7.00 4.79 7.00 4.79 7.00 4.79 7.00 4.79 7.00 4.79 7.00 4.97 7.00 4.97 7.00 4.97 7.00 4.60 7.00 4.73 7.00 4.73 7.00 4.73 7.00 4.73 7.00 4.73 7.00 4.73 7.00 5.15 7.00 5.15 7.00 4.73 7.00 4.73 7.00 4.73 7.00 4.75 7.00 4.75 7.00 4.75 7.00 4.75 7.00 4.75 7.00 4.75 7.00 4.94 7.00 4.94 7.00 4.94 7.00 4.94 7.00 4.94 7.00 4.94 7.00 4.73 7.00 4.73 7.00 4.73 7.00 4.73 7.00 4.73 7.00 4.73 7.00 4.80 7.00 4.80 7.00 4.80 7.00 4.80 7.00 4.80 7.00 4.80 7.00 4.80 7.00 4.80 7.00 4.80 7.00 4.80 7.00 4.80 7.00 4.80 7.00 4.80 7.00 4.80 7.00 4.80 7.00 4.80 7.00 4.80 7.00 4.80 7.00 4.80 7.00 4.98 7.00 4.98 7.00 4.98 7.00 4.98 7.00 4.98 7.00 4.82 7.00 4.82 7.00 4.82 7.00 4.82 7.00 4.82 7.00 4.76 7.00 4.76 7.00 4.76 7.00 4.76 7.00 4.76 7.00 4.81 7.00 4.81 7.00 4.81 7.00 4.81 7.00 4.81 7.00 4.69 7.00 4.69 7.00 4.82 7.00 4.82"/>
<path d="M226,662 L959.50,662 L959.71,660.55 L959.92,659.10 L960.13,657.66 L960.33,656.22 L960.54,654.78 L960.74,653.35 L960.94,651.91 L961.14,650.48 L961.34,649.04 L961.54,647.61 L961.73,646.18 L961.93,644.74 L962.14,643.31 L962.34,641.87 L962.54,640.43 L962.75,638.98 L962.96,637.54 L963.17,636.09 L963.39,634.63 L963.61,633.18 L963.84,631.71 L964.06,630.24 L964.30,628.77 L964.54,627.29 L964.79,625.80 L965.04,624.30 L965.30,622.80 L965.54,621.41 L965.79,620 L966.05,618.58 L966.31,617.14 L966.57,615.69 L966.84,614.24 L967.11,612.77 L967.38,611.30 L967.66,609.82 L967.94,608.33 L968.23,606.84 L968.52,605.35 L968.81,603.85 L969.10,602.36 L969.40,600.86 L969.69,599.37 L969.99,597.88 L970.29,596.39 L970.60,594.91 L970.90,593.44 L971.21,591.97 L971.52,590.51 L971.82,589.07 L972.13,587.63 L972.44,586.21 L972.75,584.80 L973.06,583.40 L973.37,582.03 L973.68,580.66 L973.99,579.32 L974.29,578 L974.60,576.70 L974.97,575.15 L975.34,573.60 L975.71,572.04 L976.08,570.48 L976.46,568.92 L976.84,567.37 L977.22,565.83 L977.60,564.31 L977.98,562.79 L978.36,561.30 L978.75,559.83 L979.13,558.38 L979.52,556.96 L979.90,555.58 L980.29,554.22 L980.68,552.91 L981.07,551.64 L981.45,550.41 L981.84,549.23 L982.23,548.10 L982.61,547.02 L983,546 L983.61,544.46 L984.19,543.02 L984.77,541.67 L985.36,540.42 L985.96,539.26 L986.59,538.19 L987.27,537.21 L988,536.30 L988.99,535.23 L990.06,534.23 L991.17,533.39 L992.29,532.82 L993.40,532.60 L994.52,532.81 L995.67,533.39 L996.81,534.23 L997.93,535.23 L999,536.30 L999.83,537.21 L1000.62,538.19 L1001.38,539.26 L1002.13,540.42 L1002.87,541.66 L1003.62,543.01 L1004.40,544.45 L1005.20,546 L1005.69,546.97 L1006.19,548 L1006.70,549.07 L1007.22,550.19 L1007.74,551.35 L1008.27,552.56 L1008.80,553.80 L1009.34,555.08 L1009.89,556.40 L1010.43,557.74 L1010.98,559.11 L1011.53,560.50 L1012.09,561.92 L1012.64,563.36 L1013.19,564.81 L1013.74,566.28 L1014.29,567.75 L1014.84,569.24 L1015.38,570.73 L1015.92,572.23 L1016.45,573.72 L1016.98,575.21 L1017.50,576.70 L1017.93,577.96 L1018.37,579.23 L1018.80,580.53 L1019.23,581.85 L1019.67,583.18 L1020.10,584.53 L1020.53,585.89 L1020.96,587.26 L1021.38,588.65 L1021.81,590.05 L1022.24,591.46 L1022.66,592.88 L1023.08,594.31 L1023.51,595.74 L1023.93,597.18 L1024.35,598.63 L1024.77,600.07 L1025.19,601.52 L1025.60,602.98 L1026.02,604.43 L1026.43,605.88 L1026.85,607.33 L1027.26,608.77 L1027.67,610.21 L1028.08,611.65 L1028.49,613.08 L1028.89,614.50 L1029.30,615.91 L1029.70,617.31 L1030.10,618.70 L1030.50,620.08 L1030.90,621.45 L1031.30,622.80 L1031.73,624.27 L1032.15,625.74 L1032.57,627.22 L1032.99,628.70 L1033.40,630.18 L1033.81,631.67 L1034.22,633.15 L1034.62,634.64 L1035.02,636.12 L1035.42,637.60 L1035.82,639.07 L1036.22,640.54 L1036.62,642 L1037.02,643.45 L1037.41,644.89 L1037.81,646.33 L1038.21,647.75 L1038.61,649.16 L1039.02,650.55 L1039.42,651.93 L1039.83,653.30 L1040.24,654.65 L1040.66,655.97 L1041.08,657.28 L1041.50,658.57 L1041.93,659.84 L1042.36,661.08 L1042.80,662.30 L1043.36,663.84 L1043.92,665.36 L1044.48,666.85 L1045.03,668.32 L1045.58,669.77 L1046.13,671.19 L1046.69,672.59 L1047.26,673.97 L1047.83,675.32 L1048.42,676.64 L1049.02,677.94 L1049.63,679.22 L1050.26,680.47 L1050.91,681.69 L1051.58,682.89 L1052.28,684.06 L1053,685.20 L1053.84,686.47 L1054.71,687.72 L1055.60,688.95 L1056.51,690.15 L1057.44,691.33 L1058.39,692.46 L1059.36,693.56 L1060.35,694.61 L1061.35,695.61 L1062.37,696.56 L1063.40,697.44 L1064.45,698.25 L1065.50,699 L1066.82,699.83 L1068.17,700.58 L1069.56,701.25 L1070.96,701.85 L1072.38,702.35 L1073.82,702.77 L1075.25,703.11 L1076.68,703.35 L1078.10,703.50 L1079.46,703.54 L1080.79,703.48 L1082.11,703.32 L1083.44,703.07 L1084.78,702.76 L1086.15,702.38 L1087.57,701.95 L1089.04,701.49 L1090.60,701 L1091.73,700.63 L1092.90,700.21 L1094.11,699.75 L1095.35,699.25 L1096.62,698.71 L1097.92,698.15 L1099.24,697.56 L1100.58,696.94 L1101.94,696.32 L1103.31,695.68 L1104.69,695.04 L1106.08,694.39 L1107.47,693.75 L1108.86,693.11 L1110.25,692.49 L1111.63,691.88 L1113,691.29 L1114.36,690.73 L1115.70,690.20 L1117.09,689.67 L1118.49,689.13 L1119.90,688.59 L1121.31,688.06 L1122.73,687.53 L1124.15,687.01 L1125.57,686.49 L1126.99,685.98 L1128.41,685.48 L1129.83,684.99 L1131.23,684.51 L1132.64,684.04 L1134.03,683.59 L1135.41,683.15 L1136.78,682.74 L1138.14,682.34 L1139.48,681.96 L1140.80,681.60 L1142.23,681.23 L1143.63,680.88 L1144.99,680.55 L1146.34,680.24 L1147.67,679.95 L1149,679.68 L1150.32,679.42 L1151.64,679.18 L1152.98,678.96 L1154.33,678.74 L1155.70,678.54 L1157.09,678.35 L1158.53,678.17 L1160,678 L1161.30,677.86 L1162.63,677.75 L1163.96,677.65 L1165.32,677.56 L1166.69,677.48 L1168.07,677.42 L1169.47,677.37 L1170.88,677.33 L1172.30,677.29 L1173.73,677.26 L1175.17,677.23 L1176.62,677.21 L1178.09,677.19 L1179.56,677.17 L1181.03,677.14 L1182.52,677.12 L1184.01,677.08 L1185.50,677.05 L1187,677 L1188.40,676.95 L1189.84,676.91 L1191.30,676.87 L1192.78,676.82 L1194.29,676.78 L1195.81,676.74 L1197.35,676.70 L1198.89,676.66 L1200.44,676.62 L1201.99,676.58 L1203.54,676.54 L1205.09,676.50 L1206.63,676.46 L1208.16,676.42 L1209.67,676.37 L1211.16,676.33 L1212.63,676.29 L1214.08,676.24 L1215.50,676.20 L1216.88,676.15 L1218.23,676.10 L1219.54,676.05 L1220.80,676 L1222.38,675.93 L1223.89,675.86 L1225.36,675.78 L1226.78,675.71 L1228.17,675.63 L1229.53,675.55 L1230.87,675.47 L1232.19,675.39 L1233.51,675.32 L1234.84,675.24 L1236.17,675.16 L1237.52,675.08 L1238.90,675 L1240.29,674.92 L1241.69,674.85 L1243.09,674.77 L1244.49,674.69 L1245.89,674.62 L1247.29,674.54 L1248.69,674.46 L1250.08,674.39 L1251.48,674.31 L1252.87,674.23 L1254.25,674.16 L1255.63,674.08 L1257,674 L1258.43,673.92 L1259.84,673.83 L1261.24,673.75 L1262.64,673.67 L1264.03,673.58 L1265.42,673.50 L1266.81,673.41 L1268.21,673.33 L1269.62,673.25 L1271.03,673.16 L1272.46,673.08 L1273.90,673 L1275.32,672.92 L1276.75,672.84 L1278.18,672.76 L1279.62,672.68 L1281.06,672.61 L1282.51,672.53 L1283.97,672.45 L1285.44,672.37 L1286.92,672.30 L1288.42,672.22 L1289.93,672.15 L1291.46,672.07 L1293,672 L1294.34,671.94 L1295.69,671.88 L1297.06,671.82 L1298.44,671.76 L1299.83,671.70 L1301.23,671.64 L1302.64,671.58 L1304.06,671.52 L1305.48,671.46 L1306.91,671.40 L1308.35,671.34 L1309.79,671.29 L1311.23,671.23 L1312.67,671.17 L1314.12,671.12 L1315.56,671.06 L1317,671 L1318.42,670.94 L1319.84,670.89 L1321.26,670.83 L1322.68,670.77 L1324.11,670.72 L1325.54,670.66 L1326.97,670.61 L1328.41,670.55 L1329.85,670.49 L1331.29,670.44 L1332.74,670.38 L1334.19,670.33 L1335.65,670.27 L1337.11,670.22 L1338.57,670.16 L1340.04,670.11 L1341.52,670.05 L1343,670 L1344.41,669.95 L1345.83,669.90 L1347.26,669.85 L1348.69,669.80 L1350.13,669.75 L1351.57,669.70 L1353.01,669.65 L1354.46,669.60 L1355.91,669.55 L1357.37,669.50 L1358.83,669.45 L1360.29,669.40 L1361.75,669.35 L1363.21,669.30 L1364.68,669.25 L1366.14,669.20 L1367.61,669.15 L1369.07,669.10 L1370.54,669.05 L1372,669 L1373.42,668.95 L1374.84,668.90 L1376.26,668.86 L1377.68,668.81 L1379.11,668.76 L1380.53,668.71 L1381.96,668.67 L1383.39,668.62 L1384.82,668.57 L1386.25,668.52 L1387.68,668.48 L1389.12,668.43 L1390.55,668.38 L1391.98,668.33 L1393.41,668.29 L1394.85,668.24 L1396.28,668.19 L1397.71,668.14 L1399.14,668.10 L1400.57,668.05 L1402,668 L1403.42,667.95 L1404.84,667.90 L1406.26,667.86 L1407.66,667.81 L1409.07,667.76 L1410.47,667.71 L1411.87,667.66 L1413.28,667.61 L1414.68,667.57 L1416.08,667.52 L1417.49,667.47 L1418.91,667.42 L1420.32,667.37 L1421.75,667.33 L1423.18,667.28 L1424.62,667.23 L1426.07,667.18 L1427.54,667.14 L1429.01,667.09 L1430.50,667.05 L1432,667 L1433.38,666.96 L1434.78,666.92 L1436.20,666.88 L1437.65,666.84 L1439.11,666.80 L1440.59,666.77 L1442.07,666.73 L1443.57,666.69 L1445.08,666.66 L1446.59,666.62 L1448.11,666.59 L1449.63,666.55 L1451.14,666.51 L1452.65,666.48 L1454.16,666.44 L1455.65,666.40 L1457.14,666.37 L1458.61,666.33 L1460.06,666.29 L1461.50,666.25 L1462.91,666.21 L1464.31,666.17 L1465.67,666.13 L1467.01,666.09 L1468.32,666.04 L1469.60,666 L1471.26,665.94 L1472.88,665.88 L1474.45,665.81 L1475.99,665.75 L1477.50,665.68 L1478.99,665.61 L1480.45,665.55 L1481.90,665.48 L1483.33,665.41 L1484.76,665.34 L1486.19,665.27 L1487.63,665.20 L1489.07,665.14 L1490.52,665.07 L1492,665 L1493.47,664.93 L1494.93,664.87 L1496.38,664.80 L1497.83,664.73 L1499.28,664.66 L1500.73,664.60 L1502.17,664.53 L1503.62,664.46 L1505.08,664.39 L1506.54,664.33 L1508.01,664.26 L1509.49,664.20 L1510.98,664.13 L1512.48,664.06 L1514,664 L1515.39,663.94 L1516.81,663.89 L1518.23,663.83 L1519.67,663.77 L1521.13,663.72 L1522.59,663.66 L1524.05,663.61 L1525.53,663.55 L1527,663.50 L1528.47,663.45 L1529.95,663.39 L1531.41,663.34 L1532.87,663.28 L1534.33,663.23 L1535.77,663.17 L1537.19,663.11 L1538.61,663.06 L1540,663 L1541.51,662.93 L1543,662.87 L1544.48,662.80 L1545.93,662.72 L1547.37,662.65 L1548.80,662.58 L1550.23,662.50 L1551.66,662.43 L1553.10,662.36 L1554.54,662.29 L1555.99,662.23 L1557.46,662.16 L1558.95,662.10 L1560.46,662.05 L1562,662 L1563.39,661.96 L1564.81,661.92 L1566.24,661.89 L1567.68,661.86 L1569.14,661.83 L1570.61,661.81 L1572.09,661.78 L1573.58,661.76 L1575.07,661.74 L1576.57,661.72 L1578.07,661.71 L1579.58,661.69 L1581.08,661.68 L1582.58,661.66 L1584.08,661.65 L1585.57,661.64 L1587.06,661.63 L1588.53,661.61 L1590,661.60 L1591.43,661.59 L1592.86,661.58 L1594.29,661.57 L1595.71,661.56 L1597.13,661.55 L1598.55,661.54 L1599.96,661.53 L1601.38,661.53 L1602.79,661.52 L1604.21,661.52 L1605.62,661.51 L1607.04,661.51 L1608.45,661.51 L1609.87,661.50 L1611.29,661.50 L1612.71,661.50 L1614.14,661.50 L1615.57,661.50 L1617,661.50 L1618.46,661.50 L1619.93,661.50 L1621.40,661.50 L1622.88,661.50 L1624.36,661.50 L1625.84,661.51 L1627.32,661.51 L1628.81,661.51 L1630.29,661.52 L1631.77,661.52 L1633.26,661.52 L1634.74,661.53 L1636.22,661.54 L1637.69,661.55 L1639.16,661.55 L1640.63,661.56 L1642.09,661.57 L1643.55,661.59 L1645,661.60 L1646.47,661.61 L1647.95,661.63 L1649.42,661.65 L1650.90,661.66 L1652.37,661.68 L1653.84,661.70 L1655.31,661.72 L1656.77,661.74 L1658.23,661.76 L1659.69,661.79 L1661.14,661.81 L1662.57,661.83 L1664.01,661.86 L1665.43,661.89 L1666.84,661.91 L1668.24,661.94 L1669.63,661.97 L1671,662 L1672.47,662.03 L1673.91,662.07 L1675.34,662.11 L1676.76,662.14 L1678.17,662.18 L1679.56,662.22 L1680.95,662.26 L1682.33,662.31 L1683.71,662.35 L1685.08,662.39 L1686.46,662.43 L1687.84,662.48 L1689.22,662.52 L1690.60,662.56 L1692,662.60 L1692.29,663.94 L1692.59,665.28 L1692.89,666.60 L1693.18,667.92 L1693.48,669.24 L1693.78,670.57 L1694.07,671.90 L1694.37,673.24 L1694.66,674.60 L1694.94,675.98 L1695.22,677.37 L1695.50,678.80 L1695.74,680.11 L1695.98,681.43 L1696.21,682.76 L1696.44,684.10 L1696.66,685.45 L1696.88,686.82 L1697.10,688.20 L1697.32,689.59 L1697.54,690.99 L1697.76,692.41 L1697.98,693.84 L1698.21,695.28 L1698.43,696.74 L1698.66,698.21 L1698.90,699.70 L1699.12,701.08 L1699.34,702.48 L1699.56,703.90 L1699.78,705.34 L1700,706.80 L1700.23,708.27 L1700.45,709.75 L1700.68,711.25 L1700.91,712.75 L1701.14,714.26 L1701.37,715.76 L1701.61,717.27 L1701.84,718.77 L1702.08,720.27 L1702.32,721.76 L1702.56,723.25 L1702.81,724.71 L1703.05,726.17 L1703.30,727.60 L1703.57,729.10 L1703.83,730.60 L1704.10,732.08 L1704.38,733.56 L1704.65,735.03 L1704.93,736.49 L1705.21,737.95 L1705.49,739.40 L1705.77,740.86 L1706.05,742.31 L1706.34,743.76 L1706.63,745.21 L1706.92,746.66 L1707.21,748.11 L1707.51,749.57 L1707.80,751.03 L1708.10,752.50 L1708.38,753.92 L1708.66,755.37 L1708.94,756.84 L1709.21,758.32 L1709.49,759.82 L1709.76,761.32 L1710.04,762.82 L1710.32,764.32 L1710.60,765.81 L1710.89,767.28 L1711.18,768.73 L1711.48,770.16 L1711.79,771.56 L1712.11,772.92 L1712.44,774.24 L1712.78,775.51 L1713.13,776.73 L1713.50,777.90 L1714.03,779.51 L1714.56,781.06 L1715.10,782.57 L1715.65,784.01 L1716.23,785.38 L1716.85,786.67 L1717.51,787.88 L1718.22,788.99 L1719,790 L1720.02,791.14 L1721.14,792.25 L1722.32,793.24 L1723.53,794.01 L1724.74,794.50 L1725.90,794.60 L1726.87,794.34 L1727.85,793.78 L1728.82,792.97 L1729.79,791.97 L1730.75,790.81 L1731.69,789.55 L1732.61,788.23 L1733.50,786.90 L1734.14,785.89 L1734.77,784.80 L1735.38,783.65 L1735.98,782.43 L1736.57,781.15 L1737.15,779.82 L1737.72,778.45 L1738.28,777.05 L1738.83,775.61 L1739.38,774.14 L1739.92,772.66 L1740.46,771.17 L1741,769.67 L1741.53,768.17 L1742.07,766.68 L1742.60,765.20 L1743.06,763.92 L1743.51,762.61 L1743.96,761.29 L1744.40,759.95 L1744.84,758.59 L1745.27,757.23 L1745.70,755.85 L1746.13,754.45 L1746.55,753.05 L1746.97,751.65 L1747.39,750.23 L1747.81,748.81 L1748.23,747.39 L1748.65,745.97 L1749.06,744.55 L1749.48,743.13 L1749.90,741.71 L1750.32,740.29 L1750.74,738.89 L1751.17,737.49 L1751.60,736.10 L1752.03,734.72 L1752.46,733.34 L1752.90,731.96 L1753.33,730.57 L1753.76,729.19 L1754.20,727.81 L1754.63,726.44 L1755.07,725.06 L1755.50,723.68 L1755.94,722.30 L1756.38,720.92 L1756.81,719.54 L1757.25,718.16 L1757.68,716.78 L1758.11,715.40 L1758.55,714.02 L1758.98,712.63 L1759.41,711.25 L1759.84,709.87 L1760.27,708.48 L1760.70,707.10 L1761.13,705.70 L1761.56,704.29 L1761.99,702.87 L1762.43,701.43 L1762.86,699.99 L1763.30,698.55 L1763.73,697.10 L1764.17,695.65 L1764.60,694.20 L1765.03,692.76 L1765.46,691.32 L1765.89,689.90 L1766.31,688.48 L1766.74,687.08 L1767.16,685.69 L1767.57,684.32 L1767.99,682.96 L1768.40,681.63 L1768.80,680.33 L1769.20,679.05 L1769.60,677.80 L1770.07,676.33 L1770.52,674.90 L1770.96,673.49 L1771.40,672.11 L1771.83,670.75 L1772.26,669.41 L1772.68,668.10 L1773.11,666.79 L1773.54,665.51 L1773.97,664.23 L1774.41,662.96 L1774.86,661.71 L1775.32,660.45 L1775.80,659.20 L1776.32,657.86 L1776.86,656.51 L1777.40,655.17 L1777.95,653.84 L1778.50,652.52 L1779.06,651.22 L1779.63,649.94 L1780.20,648.68 L1780.77,647.45 L1781.35,646.26 L1781.92,645.11 L1782.50,644 L1783.19,642.72 L1783.86,641.50 L1784.53,640.32 L1785.20,639.19 L1785.90,638.09 L1786.62,637.01 L1787.39,635.95 L1788.20,634.90 L1789.08,633.84 L1790.01,632.78 L1790.97,631.75 L1791.97,630.74 L1792.99,629.77 L1794.02,628.83 L1795.06,627.94 L1796.10,627.10 L1797.19,626.27 L1798.29,625.48 L1799.41,624.73 L1800.54,624.03 L1801.68,623.38 L1802.84,622.80 L1804,622.30 L1805.28,621.82 L1806.56,621.40 L1807.86,621.05 L1809.18,620.80 L1810.52,620.64 L1811.90,620.60 L1813.28,620.70 L1814.69,620.94 L1816.12,621.28 L1817.58,621.70 L1819.05,622.16 L1820.52,622.64 L1822,623.10 L1823.40,623.53 L1824.84,623.99 L1826.28,624.48 L1827.74,624.99 L1829.18,625.51 L1830.59,626.04 L1831.97,626.57 L1833.30,627.10 L1834.58,627.63 L1835.83,628.15 L1837.05,628.68 L1838.24,629.22 L1839.41,629.78 L1840.56,630.37 L1841.70,631 L1842.98,631.79 L1844.23,632.66 L1845.46,633.56 L1846.67,634.46 L1847.88,635.32 L1849.10,636.10 L1850.22,636.78 L1851.34,637.46 L1852.46,638.10 L1853.58,638.68 L1854.69,639.16 L1855.80,639.50 L1857.24,639.73 L1858.67,639.78 L1860.09,639.68 L1861.50,639.50 L1862.90,639.18 L1864.29,638.72 L1865.68,638.23 L1867.10,637.80 L1868.30,637.49 L1869.51,637.19 L1870.74,636.92 L1872,636.71 L1873.30,636.60 L1874.56,636.60 L1875.85,636.69 L1877.17,636.84 L1878.51,637.04 L1879.86,637.27 L1881.20,637.50 L1882.59,637.77 L1883.99,638.08 L1885.39,638.42 L1886.80,638.77 L1888.23,639.14 L1889.70,639.50 L1890.91,639.79 L1892.10,640.09 L1893.29,640.40 L1894.50,640.71 L1895.75,641.02 L1897.07,641.34 L1898.48,641.67 L1900,642 L1901.13,642.24 L1902.32,642.49 L1903.57,642.74 L1904.88,643.01 L1906.23,643.27 L1907.62,643.55 L1909.05,643.82 L1910.50,644.10 L1911.98,644.38 L1913.48,644.65 L1914.99,644.93 L1916.50,645.20 L1918.02,645.47 L1919.53,645.73 L1921.03,645.99 L1922.51,646.23 L1923.97,646.47 L1925.40,646.70 L1926.80,646.92 L1928.17,647.13 L1929.54,647.34 L1930.89,647.54 L1932.23,647.74 L1933.57,647.93 L1934.91,648.12 L1936.25,648.31 L1937.60,648.49 L1938.96,648.67 L1940.34,648.84 L1941.75,649.01 L1943.17,649.18 L1944.62,649.35 L1946.11,649.52 L1947.63,649.68 L1949.19,649.84 L1950.80,650 L1952.06,650.12 L1953.34,650.24 L1954.66,650.36 L1955.99,650.48 L1957.35,650.59 L1958.73,650.71 L1960.13,650.82 L1961.55,650.93 L1962.99,651.04 L1964.44,651.15 L1965.91,651.25 L1967.39,651.36 L1968.89,651.46 L1970.40,651.56 L1971.91,651.66 L1973.44,651.76 L1974.97,651.86 L1976.51,651.95 L1978.05,652.05 L1979.59,652.14 L1981.14,652.23 L1982.69,652.32 L1984.23,652.40 L1985.78,652.49 L1987.32,652.57 L1988.86,652.65 L1990.39,652.73 L1991.91,652.81 L1993.42,652.89 L1994.93,652.96 L1996.42,653.03 L1997.90,653.10 L1999.38,653.17 L2000.86,653.23 L2002.35,653.29 L2003.84,653.34 L2005.33,653.39 L2006.83,653.44 L2008.33,653.49 L2009.84,653.53 L2011.34,653.57 L2012.85,653.60 L2014.36,653.64 L2015.87,653.67 L2017.37,653.71 L2018.88,653.74 L2020.38,653.77 L2021.88,653.80 L2023.38,653.83 L2024.87,653.86 L2026.37,653.89 L2027.85,653.92 L2029.33,653.95 L2030.81,653.98 L2032.27,654.01 L2033.73,654.04 L2035.19,654.08 L2036.63,654.12 L2038.07,654.16 L2039.50,654.20 L2040.91,654.25 L2042.32,654.29 L2043.72,654.34 L2045.10,654.40 L2046.64,654.46 L2048.17,654.53 L2049.68,654.59 L2051.18,654.66 L2052.67,654.73 L2054.15,654.79 L2055.61,654.86 L2057.07,654.93 L2058.52,655 L2059.97,655.07 L2061.41,655.15 L2062.84,655.22 L2064.27,655.30 L2065.69,655.38 L2067.12,655.46 L2068.54,655.54 L2069.96,655.63 L2071.38,655.72 L2072.80,655.81 L2074.22,655.90 L2075.65,655.99 L2077.08,656.09 L2078.51,656.19 L2079.95,656.29 L2081.40,656.40 L2082.85,656.51 L2084.30,656.63 L2085.75,656.75 L2087.20,656.87 L2088.65,657 L2090.09,657.13 L2091.54,657.26 L2092.99,657.40 L2094.44,657.54 L2095.88,657.68 L2097.33,657.83 L2098.78,657.97 L2100.23,658.12 L2101.67,658.26 L2103.12,658.41 L2104.57,658.55 L2106.01,658.70 L2107.46,658.84 L2108.91,658.99 L2110.36,659.13 L2111.81,659.27 L2113.25,659.41 L2114.70,659.54 L2116.15,659.67 L2117.60,659.80 L2119.06,659.93 L2120.52,660.06 L2121.99,660.19 L2123.47,660.32 L2124.95,660.45 L2126.44,660.58 L2127.93,660.72 L2129.42,660.85 L2130.91,660.98 L2132.40,661.11 L2133.89,661.24 L2135.37,661.37 L2136.86,661.49 L2138.33,661.61 L2139.80,661.74 L2141.27,661.85 L2142.72,661.97 L2144.16,662.07 L2145.60,662.18 L2147.02,662.28 L2148.43,662.38 L2149.82,662.47 L2151.20,662.55 L2152.56,662.63 L2153.90,662.70 L2155.43,662.78 L2156.91,662.84 L2158.33,662.90 L2159.71,662.95 L2161.06,662.99 L2162.39,663.03 L2163.70,663.06 L2165.01,663.09 L2166.32,663.12 L2167.66,663.14 L2169.01,663.16 L2170.40,663.17 L2171.84,663.19 L2173.32,663.21 L2174.87,663.23 L2176.50,663.25 L2178.20,663.27 L2180,663.30 L2181.09,663.32 L2182.21,663.33 L2183.36,663.35 L2184.53,663.37 L2185.72,663.38 L2186.95,663.40 L2188.19,663.42 L2189.46,663.43 L2190.75,663.45 L2192.06,663.47 L2193.40,663.48 L2194.75,663.50 L2196.13,663.51 L2197.52,663.53 L2198.93,663.55 L2200.35,663.56 L2201.80,663.58 L2203.26,663.59 L2204.73,663.61 L2206.22,663.62 L2207.72,663.64 L2209.24,663.65 L2210.76,663.66 L2212.30,663.68 L2213.85,663.69 L2215.41,663.71 L2216.98,663.72 L2218.55,663.73 L2220.13,663.75 L2221.72,663.76 L2223.32,663.77 L2224.92,663.79 L2226.53,663.80 L2228.14,663.81 L2229.75,663.82 L2231.37,663.83 L2232.98,663.84 L2234.60,663.86 L2236.22,663.87 L2237.84,663.88 L2239.45,663.89 L2241.07,663.90 L2242.68,663.91 L2244.29,663.92 L2245.89,663.93 L2247.49,663.94 L2249.08,663.95 L2250.66,663.95 L2252.24,663.96 L2253.81,663.97 L2255.38,663.98 L2256.93,663.99 L2258.47,663.99 L2260,664 L2261.46,664.01 L2262.92,664.01 L2264.39,664.02 L2265.86,664.02 L2267.34,664.03 L2268.82,664.03 L2270.30,664.04 L2271.79,664.04 L2273.29,664.05 L2274.78,664.05 L2276.28,664.05 L2277.78,664.06 L2279.29,664.06 L2280.80,664.06 L2282.31,664.07 L2283.82,664.07 L2285.33,664.07 L2286.85,664.07 L2288.37,664.08 L2289.89,664.08 L2291.41,664.08 L2292.93,664.08 L2294.46,664.08 L2295.98,664.08 L2297.51,664.08 L2299.04,664.08 L2300.56,664.08 L2302.09,664.08 L2303.62,664.08 L2305.14,664.08 L2306.67,664.08 L2308.20,664.08 L2309.72,664.08 L2311.25,664.08 L2312.77,664.08 L2314.29,664.08 L2315.81,664.08 L2317.33,664.07 L2318.85,664.07 L2320.37,664.07 L2321.88,664.07 L2323.39,664.07 L2324.90,664.06 L2326.41,664.06 L2327.91,664.06 L2329.41,664.05 L2330.91,664.05 L2332.40,664.05 L2333.89,664.05 L2335.38,664.04 L2336.86,664.04 L2338.34,664.03 L2339.81,664.03 L2341.28,664.03 L2342.75,664.02 L2344.21,664.02 L2345.67,664.01 L2347.12,664.01 L2348.56,664 L2350,664 L2351.55,663.99 L2353.10,663.99 L2354.64,663.98 L2356.17,663.98 L2357.71,663.97 L2359.24,663.96 L2360.76,663.96 L2362.28,663.95 L2363.80,663.94 L2365.31,663.93 L2366.82,663.92 L2368.32,663.92 L2369.83,663.91 L2371.33,663.90 L2372.82,663.89 L2374.32,663.88 L2375.81,663.87 L2377.30,663.86 L2378.78,663.85 L2380.27,663.84 L2381.75,663.83 L2383.23,663.82 L2384.71,663.81 L2386.19,663.80 L2387.66,663.79 L2389.14,663.77 L2390.61,663.76 L2392.08,663.75 L2393.56,663.74 L2395.03,663.73 L2396.50,663.72 L2397.97,663.71 L2399.44,663.70 L2400.90,663.68 L2402.37,663.67 L2403.84,663.66 L2405.31,663.65 L2406.78,663.64 L2408.25,663.63 L2409.73,663.62 L2411.20,663.61 L2412.67,663.59 L2414.15,663.58 L2415.62,663.57 L2417.10,663.56 L2418.58,663.55 L2420.06,663.54 L2421.54,663.53 L2423.02,663.52 L2424.51,663.51 L2426,663.50" stroke="#edb120" stroke-width="5"/>
</g>
<g fill="#262626">
<text transform="translate(225.9,1307.35) scale(1,1.02)" font-size="55.3px" text-anchor="middle">0</text>
<text transform="translate(591.9,1307.35) scale(1,1.02)" font-size="55.3px" text-anchor="middle">0.5</text>
<text transform="translate(958.9,1307.35) scale(1,1.02)" font-size="55.3px" text-anchor="middle">1</text>
<text transform="translate(1324.9,1307.35) scale(1,1.02)" font-size="55.3px" text-anchor="middle">1.5</text>
<text transform="translate(1690.9,1307.35) scale(1,1.02)" font-size="55.3px" text-anchor="middle">2</text>
<text transform="translate(2056.9,1307.35) scale(1,1.02)" font-size="55.3px" text-anchor="middle">2.5</text>
<text transform="translate(2423.9,1307.35) scale(1,1.02)" font-size="55.3px" text-anchor="middle">3</text>
<text transform="translate(209.2,112.4) scale(1,1.02)" font-size="55.3px" text-anchor="end">5</text>
<text transform="translate(209.2,684.2) scale(1,1.02)" font-size="55.3px" text-anchor="end">0</text>
<text transform="translate(209.2,1255.3) scale(1,1.02)" font-size="55.3px" text-anchor="end">-5</text>
<text transform="translate(229.7,84.3) scale(1.0,1.0)" font-size="61px" text-anchor="start">×</text>
<text transform="translate(269.1,78.4) scale(1,1.02)" font-size="55.3px" text-anchor="start">10</text>
<text transform="translate(331.0,50.9) scale(1,1.02)" font-size="44.25px" text-anchor="start">-4</text>
</g>
<text x="1325.5" y="1395.5" text-anchor="middle" font-size="70.8px" fill="#262626">time (s)</text>
<text transform="translate(102,663) rotate(-90)" text-anchor="middle" font-size="70.8px" fill="#262626">Synchronous Error y<tspan font-size="56.6px" dy="37">1</tspan><tspan dy="-37">-y</tspan><tspan font-size="56.6px" dy="37">2</tspan><tspan dy="-37">(</tspan><tspan dx="1.3">m</tspan><tspan dx="0.3">)</tspan></text>
<rect x="2201.5" y="114.5" width="199" height="276" fill="#ffffff" stroke="#262626" stroke-width="1" shape-rendering="crispEdges"/>
<g fill="none" shape-rendering="crispEdges">
<line x1="2209" y1="163.5" x2="2299" y2="163.5" stroke="#0072bd" stroke-width="7" stroke-dasharray="25 22.9"/>
<line x1="2209" y1="252.5" x2="2299" y2="252.5" stroke="#ff0000" stroke-width="7" stroke-dasharray="7.1 4.75"/>
<line x1="2209" y1="342" x2="2299" y2="342" stroke="#edb120" stroke-width="4"/>
</g>
<g fill="#000000">
<text transform="translate(2305.6,190.9) scale(0.985,1.01)" font-size="70.8px" text-anchor="start">(1)</text>
<text transform="translate(2305.6,280.4) scale(0.985,1.01)" font-size="70.8px" text-anchor="start">(2)</text>
<text transform="translate(2305.6,369.9) scale(0.985,1.01)" font-size="70.8px" text-anchor="start">(3)</text>
</g>
</svg></body></html>
